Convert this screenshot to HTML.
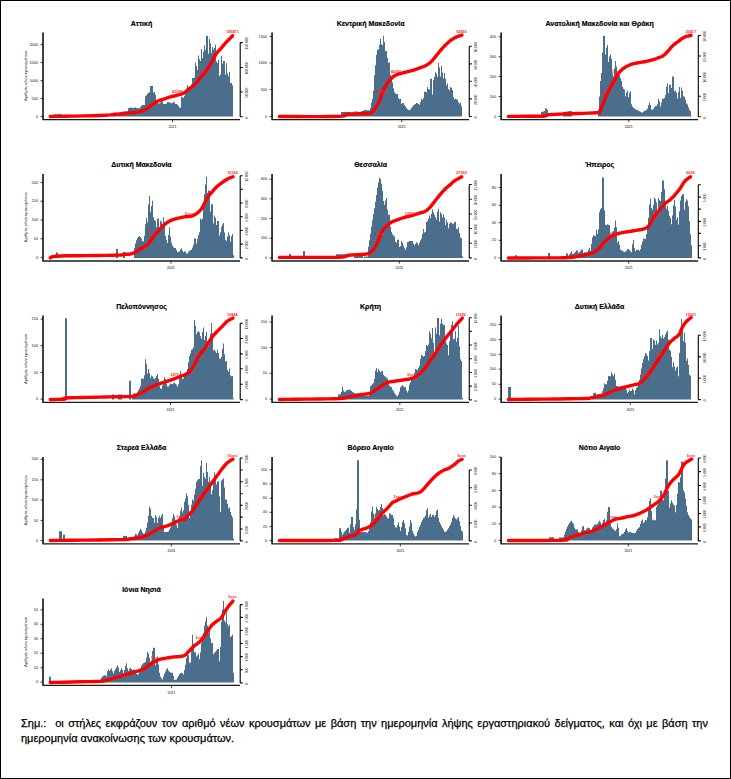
<!DOCTYPE html>
<html><head><meta charset="utf-8"><style>
html,body{margin:0;padding:0;background:#fff;}
body{width:731px;height:779px;position:relative;overflow:hidden;font-family:"Liberation Sans",sans-serif;}
svg text{font-family:"Liberation Sans",sans-serif;}
.frame{position:absolute;left:0;top:0;width:729px;height:777px;border:1px solid #000;box-sizing:content-box;}
.note{position:absolute;left:21px;width:687px;font-size:11px;line-height:15.6px;color:#000;white-space:nowrap;-webkit-text-stroke:0.25px #000;}
.l1{top:715.6px;text-align:justify;text-align-last:justify;white-space:normal;height:16px;overflow:hidden;}
.l2{top:731.3px;}
</style></head><body>
<div class="frame"></div>
<svg width="731" height="779" viewBox="0 0 731 779" style="position:absolute;left:0;top:0">
<path d="M54,116.5 V114.3 H55 V114.3 H56 V114.3 H57 V114.3 H58 V114.3 H59 V114.3 H60 V114.3 H61 V114.3 H62 V115.71 H63 V116.5 H64 V116.5 H65 V116.5 H66 V116.5 H67 V116.5 H68 V116.5 H69 V116.5 H70 V116.5 H71 V116.5 H72 V116.5 H73 V116.5 H74 V116.5 H75 V116.5 H76 V116.5 H77 V116.5 H78 V116.5 H79 V116.5 H80 V116.5 H81 V116.5 H82 V116.5 H83 V116.5 H84 V116.5 H85 V116.5 H86 V116.5 H87 V116.5 H88 V116.5 H89 V116.5 H90 V116.5 H91 V116.5 H92 V116.5 H93 V116.5 H94 V116.5 H95 V116.5 H96 V116.5 H97 V116.5 H98 V116.5 H99 V116.5 H100 V116.5 H101 V116.5 H102 V116.5 H103 V116.5 H104 V116.5 H105 V116.5 H106 V116.5 H107 V116.5 H108 V116.5 H109 V116.5 H110 V116.5 H111 V116.5 H112 V116.5 H113 V114.92 H114 V112.7 H115 V112.7 H116 V112.7 H117 V112.7 H118 V112.7 H119 V112.7 H120 V112.7 H121 V112.7 H122 V112.88 H123 V111.6 H124 V111.6 H125 V111.6 H126 V111.6 H127 V111.6 H128 V108.22 H129 V107.9 H130 V107.5 H131 V107.5 H132 V108.12 H133 V108.12 H134 V107.5 H135 V107.5 H136 V108 H137 V108.3 H138 V108.3 H139 V108.3 H140 V107.17 H141 V105.67 H142 V105 H143 V105 H144 V105 H145 V96.3 H146 V95.17 H147 V93.67 H148 V92.76 H149 V92.33 H150 V85.9 H151 V85.9 H152 V85.9 H153 V92.58 H154 V91.9 H155 V94.66 H156 V100.78 H157 V102.55 H158 V103.55 H159 V103.36 H160 V102.55 H161 V100.5 H162 V101.58 H163 V103.9 H164 V103.9 H165 V103.9 H166 V103.4 H167 V102 H168 V102 H169 V102.38 H170 V102.69 H171 V103.36 H172 V103.09 H173 V101.7 H174 V102.43 H175 V103.96 H176 V103.9 H177 V104.67 H178 V106.08 H179 V107.49 H180 V107.7 H181 V96.8 H182 V97.27 H183 V98 H184 V95.64 H185 V92 H186 V88.86 H187 V85.3 H188 V90.14 H189 V90 H190 V88 H191 V84.29 H192 V78.1 H193 V78.1 H194 V77.56 H195 V62.8 H196 V65.92 H197 V69.89 H198 V55.6 H199 V59.21 H200 V61.1 H201 V48.9 H202 V58.3 H203 V51.83 H204 V45.3 H205 V49.91 H206 V35.8 H207 V35.8 H208 V53.77 H209 V39 H210 V43.25 H211 V52.66 H212 V47.1 H213 V49.8 H214 V48.06 H215 V44.8 H216 V61.56 H217 V62.92 H218 V60.1 H219 V76.08 H220 V74.38 H221 V56 H222 V63.76 H223 V61 H224 V61 H225 V74.86 H226 V63.2 H227 V73.55 H228 V76.34 H229 V71.8 H230 V83.03 H231 V83 H232 V85.23 H233 V116.5 H234 V116.5 Z" fill="#4a6e8b"/>
<path d="M43,32.4 V119.6" fill="none" stroke="#000" stroke-width="1.5"/>
<path d="M42.4,119.6 H240" fill="none" stroke="#1a1a1a" stroke-width="1.3"/>
<path d="M40.5,116.5 H43 M40.5,98.5 H43 M40.5,80.6 H43 M40.5,62.6 H43 M40.5,44.7 H43" stroke="#111" stroke-width="0.8"/>
<text x="38.1" y="117.6" font-size="3.9" text-anchor="end" fill="#111">0</text>
<text x="38.1" y="99.6" font-size="3.9" text-anchor="end" fill="#111">500</text>
<text x="38.1" y="81.7" font-size="3.9" text-anchor="end" fill="#111">1000</text>
<text x="38.1" y="63.7" font-size="3.9" text-anchor="end" fill="#111">1500</text>
<text x="38.1" y="45.8" font-size="3.9" text-anchor="end" fill="#111">2000</text>
<text transform="translate(27.1,75.9) rotate(-90)" font-size="3.8" text-anchor="middle" fill="#222" textLength="50" lengthAdjust="spacingAndGlyphs">Αριθμός νέων κρουσμάτων</text>
<path d="M172.5,119.6 V122.2" stroke="#111" stroke-width="0.8"/>
<text x="172.5" y="128" font-size="3.5" text-anchor="middle" fill="#000">2021</text>
<path d="M240.2,42.6 V116.7 M240.2,116.7 H242.7 M240.2,92 H242.7 M240.2,67.5 H242.7 M240.2,42.6 H242.7" fill="none" stroke="#000" stroke-width="1.1"/>
<text transform="translate(248,117.5) rotate(-90)" font-size="3.4" text-anchor="middle" fill="#222">0</text>
<text transform="translate(248,92.8) rotate(-90)" font-size="3.4" text-anchor="middle" fill="#222">50 000</text>
<text transform="translate(248,68.3) rotate(-90)" font-size="3.4" text-anchor="middle" fill="#222">100 000</text>
<text transform="translate(248,43.4) rotate(-90)" font-size="3.4" text-anchor="middle" fill="#222">150 000</text>
<path d="M50.3,116.5 L56.1,116.39 L64.44,116.25 L74.16,116.08 L84.1,115.89 L93.1,115.69 L100,115.5 L104.66,115.31 L107.99,115.11 L110.37,114.91 L112.21,114.7 L113.92,114.5 L115.9,114.3 L118.02,114.11 L119.93,113.93 L121.71,113.74 L123.42,113.56 L125.13,113.38 L126.9,113.2 L128.77,113.03 L130.7,112.87 L132.63,112.72 L134.49,112.55 L136.23,112.35 L137.8,112.1 L139.17,111.8 L140.4,111.47 L141.51,111.1 L142.52,110.71 L143.48,110.31 L144.4,109.9 L145.26,109.49 L146.03,109.06 L146.74,108.62 L147.42,108.16 L148.1,107.69 L148.8,107.2 L149.52,106.68 L150.24,106.12 L150.95,105.55 L151.66,104.98 L152.38,104.42 L153.1,103.9 L153.8,103.41 L154.48,102.94 L155.16,102.48 L155.87,102.04 L156.64,101.61 L157.5,101.2 L158.47,100.8 L159.54,100.43 L160.67,100.07 L161.83,99.71 L162.98,99.36 L164.1,99 L165.19,98.63 L166.27,98.24 L167.35,97.86 L168.43,97.49 L169.51,97.13 L170.6,96.8 L171.69,96.51 L172.79,96.24 L173.89,96 L175,95.76 L176.1,95.49 L177.2,95.2 L178.32,94.89 L179.45,94.59 L180.59,94.26 L181.7,93.9 L182.78,93.49 L183.8,93 L184.75,92.41 L185.63,91.74 L186.47,91.01 L187.3,90.26 L188.14,89.51 L189,88.8 L189.89,88.15 L190.79,87.54 L191.69,86.93 L192.59,86.3 L193.5,85.6 L194.4,84.8 L195.3,83.88 L196.2,82.87 L197.1,81.79 L198,80.69 L198.9,79.58 L199.8,78.5 L200.7,77.47 L201.6,76.47 L202.51,75.46 L203.41,74.43 L204.31,73.35 L205.2,72.2 L206.09,70.97 L206.97,69.7 L207.85,68.37 L208.73,66.99 L209.61,65.57 L210.5,64.1 L211.39,62.52 L212.29,60.83 L213.19,59.09 L214.1,57.37 L215,55.75 L215.9,54.3 L216.8,53.05 L217.7,51.94 L218.6,50.93 L219.5,49.97 L220.4,49.01 L221.3,48 L222.19,46.95 L223.08,45.89 L223.97,44.83 L224.86,43.77 L225.77,42.73 L226.7,41.7 L227.72,40.63 L228.85,39.49 L229.99,38.36 L231.05,37.31 L231.95,36.44 L232.6,35.8" fill="none" stroke="#ff0000" stroke-width="3.4" stroke-linecap="round" stroke-linejoin="round"/>
<text x="232.5" y="32.9" font-size="3.8" font-weight="bold" text-anchor="middle" fill="#ff1a1a">185471</text>
<text x="177.4" y="92.9" font-size="3.8" font-weight="bold" text-anchor="middle" fill="#ff1a1a">43358</text>
<text x="200.8" y="72.7" font-size="3.8" font-weight="bold" text-anchor="middle" fill="#ff1a1a">92x</text>
<text x="141.5" y="25.8" font-size="7" font-weight="bold" text-anchor="middle" fill="#000" stroke="#000" stroke-width="0.18">Αττική</text>
<path d="M341,116.5 V112 H342 V112 H343 V112 H344 V112 H345 V112 H346 V112 H347 V112 H348 V112 H349 V112 H350 V112 H351 V112.62 H352 V112.62 H353 V112.12 H354 V111.5 H355 V111.5 H356 V111.62 H357 V111.72 H358 V111.83 H359 V111.92 H360 V111.7 H361 V111.3 H362 V110.9 H363 V110.5 H364 V110 H365 V110 H366 V110.14 H367 V110.25 H368 V110.37 H369 V110.48 H370 V107.98 H371 V102.61 H372 V98.67 H373 V90.86 H374 V75.2 H375 V65.26 H376 V54.95 H377 V49.7 H378 V49.42 H379 V45.1 H380 V38.6 H381 V44.23 H382 V45.14 H383 V35.7 H384 V41.95 H385 V51.32 H386 V51 H387 V57.8 H388 V63.1 H389 V62.2 H390 V74.63 H391 V79.19 H392 V82.3 H393 V88.17 H394 V92.25 H395 V93.53 H396 V94.1 H397 V94.1 H398 V98.12 H399 V99.14 H400 V98.8 H401 V104.12 H402 V103 H403 V103 H404 V105.08 H405 V106.5 H406 V107.94 H407 V109.19 H408 V109.84 H409 V110.3 H410 V109.45 H411 V108.11 H412 V106.86 H413 V105.3 H414 V104.72 H415 V103.96 H416 V103 H417 V103 H418 V103.92 H419 V104.66 H420 V102.24 H421 V98.8 H422 V99.92 H423 V98.05 H424 V91.8 H425 V91.8 H426 V92.3 H427 V87 H428 V88.91 H429 V89.42 H430 V78.8 H431 V78.8 H432 V94.41 H433 V80 H434 V76.73 H435 V72.3 H436 V73.98 H437 V76.93 H438 V62.8 H439 V67.38 H440 V76.51 H441 V65.8 H442 V72.44 H443 V78.53 H444 V72.9 H445 V78.63 H446 V85.4 H447 V83.5 H448 V88.88 H449 V90.45 H450 V87 H451 V87.79 H452 V90.04 H453 V97.01 H454 V99.23 H455 V98.8 H456 V99.29 H457 V99.86 H458 V102.35 H459 V103.69 H460 V102.4 H461 V106.16 H462 V116.5 H463 V116.5 Z" fill="#4a6e8b"/>
<path d="M272.05,32.4 V119.6" fill="none" stroke="#000" stroke-width="1.5"/>
<path d="M271.45,119.6 H469.05" fill="none" stroke="#1a1a1a" stroke-width="1.3"/>
<path d="M269.55,116.5 H272.05 M269.55,89.6 H272.05 M269.55,63 H272.05 M269.55,36.5 H272.05" stroke="#111" stroke-width="0.8"/>
<text x="267.15" y="117.6" font-size="3.9" text-anchor="end" fill="#111">0</text>
<text x="267.15" y="90.7" font-size="3.9" text-anchor="end" fill="#111">500</text>
<text x="267.15" y="64.1" font-size="3.9" text-anchor="end" fill="#111">1000</text>
<text x="267.15" y="37.6" font-size="3.9" text-anchor="end" fill="#111">1500</text>
<path d="M401.8,119.6 V122.2" stroke="#111" stroke-width="0.8"/>
<text x="401.8" y="128" font-size="3.5" text-anchor="middle" fill="#000">2021</text>
<path d="M469.25,46.3 V116.5 M469.25,116.5 H471.75 M469.25,98.9 H471.75 M469.25,81.3 H471.75 M469.25,63.9 H471.75 M469.25,46.3 H471.75" fill="none" stroke="#000" stroke-width="1.1"/>
<text transform="translate(477.05,117.3) rotate(-90)" font-size="3.4" text-anchor="middle" fill="#222">0</text>
<text transform="translate(477.05,99.7) rotate(-90)" font-size="3.4" text-anchor="middle" fill="#222">20 000</text>
<text transform="translate(477.05,82.1) rotate(-90)" font-size="3.4" text-anchor="middle" fill="#222">40 000</text>
<text transform="translate(477.05,64.7) rotate(-90)" font-size="3.4" text-anchor="middle" fill="#222">60 000</text>
<text transform="translate(477.05,47.1) rotate(-90)" font-size="3.4" text-anchor="middle" fill="#222">80 000</text>
<path d="M279.35,116.5 L286.31,116.51 L296.39,116.54 L308.11,116.58 L319.96,116.58 L330.42,116.53 L338,116.4 L342.33,116.16 L344.53,115.82 L345.35,115.43 L345.54,115.03 L345.84,114.67 L347,114.4 L348.99,114.22 L351.22,114.09 L353.56,114 L355.89,113.93 L358.08,113.87 L360,113.8 L361.68,113.73 L363.21,113.67 L364.61,113.61 L365.87,113.56 L367,113.49 L368,113.4 L368.82,113.32 L369.46,113.25 L369.96,113.17 L370.39,113.05 L370.82,112.87 L371.3,112.6 L371.81,112.28 L372.29,111.93 L372.76,111.52 L373.25,111 L373.79,110.34 L374.4,109.5 L375.12,108.43 L375.92,107.16 L376.77,105.74 L377.63,104.24 L378.46,102.71 L379.2,101.2 L379.86,99.67 L380.46,98.06 L381.02,96.43 L381.57,94.8 L382.13,93.25 L382.7,91.8 L383.28,90.47 L383.85,89.22 L384.43,88.03 L385.01,86.89 L385.64,85.79 L386.3,84.7 L387.02,83.62 L387.79,82.56 L388.58,81.53 L389.39,80.55 L390.2,79.64 L391,78.8 L391.76,78.05 L392.48,77.38 L393.2,76.78 L393.96,76.22 L394.78,75.7 L395.7,75.2 L396.72,74.74 L397.8,74.34 L398.96,73.98 L400.17,73.63 L401.46,73.27 L402.8,72.9 L404.26,72.51 L405.85,72.11 L407.5,71.71 L409.15,71.3 L410.74,70.9 L412.2,70.5 L413.53,70.1 L414.78,69.7 L415.96,69.29 L417.1,68.89 L418.21,68.49 L419.3,68.1 L420.37,67.73 L421.41,67.37 L422.41,67.02 L423.39,66.66 L424.35,66.26 L425.3,65.8 L426.23,65.29 L427.14,64.76 L428.03,64.19 L428.9,63.57 L429.76,62.91 L430.6,62.2 L431.42,61.42 L432.21,60.58 L432.99,59.69 L433.76,58.77 L434.52,57.84 L435.3,56.9 L436.08,55.94 L436.86,54.96 L437.64,53.95 L438.43,52.94 L439.21,51.96 L440,51 L440.78,50.08 L441.55,49.19 L442.32,48.31 L443.11,47.44 L443.94,46.58 L444.8,45.7 L445.72,44.8 L446.69,43.87 L447.68,42.94 L448.69,42.03 L449.7,41.18 L450.7,40.4 L451.69,39.69 L452.69,39.04 L453.69,38.43 L454.68,37.87 L455.65,37.36 L456.6,36.9 L457.58,36.48 L458.61,36.11 L459.62,35.78 L460.55,35.5 L461.33,35.28 L461.9,35.1" fill="none" stroke="#ff0000" stroke-width="3.4" stroke-linecap="round" stroke-linejoin="round"/>
<text x="461.5" y="32.9" font-size="3.8" font-weight="bold" text-anchor="middle" fill="#ff1a1a">92856</text>
<text x="396" y="72.9" font-size="3.8" font-weight="bold" text-anchor="middle" fill="#ff1a1a">44305</text>
<text x="381.5" y="92.9" font-size="3.8" font-weight="bold" text-anchor="middle" fill="#ff1a1a">23064</text>
<text x="370.55" y="25.8" font-size="7" font-weight="bold" text-anchor="middle" fill="#000" stroke="#000" stroke-width="0.18">Κεντρική Μακεδονία</text>
<path d="M541,116.5 V112 H542 V111.75 H543 V111.42 H544 V111 H545 V108.5 H546 V108.5 H547 V109.75 H548 V116.5 H549 V116.5 H550 V116.5 H551 V116.5 H552 V116.5 H553 V116.5 H554 V116.5 H555 V116.5 H556 V116.5 H557 V116.5 H558 V116.5 H559 V116.5 H560 V116.5 H561 V116.5 H562 V116.5 H563 V112 H564 V111.89 H565 V111.75 H566 V111.61 H567 V111.46 H568 V111.32 H569 V111.18 H570 V111 H571 V111 H572 V116.5 H573 V116.5 H574 V116.5 H575 V116.5 H576 V116.5 H577 V116.5 H578 V116.5 H579 V116.5 H580 V116.5 H581 V116.5 H582 V116.5 H583 V116.5 H584 V116.5 H585 V116.5 H586 V116.5 H587 V116.5 H588 V116.5 H589 V116.5 H590 V116.5 H591 V116.5 H592 V116.5 H593 V116.5 H594 V116.5 H595 V116.5 H596 V116.5 H597 V116.5 H598 V110.24 H599 V96.51 H600 V81.1 H601 V72.9 H602 V52.51 H603 V35.7 H604 V35.7 H605 V54.4 H606 V47.51 H607 V45.1 H608 V62.1 H609 V56.54 H610 V54.6 H611 V58.7 H612 V73.43 H613 V76.42 H614 V68.56 H615 V61.1 H616 V66.44 H617 V76.14 H618 V75.89 H619 V75.2 H620 V78 H621 V80.95 H622 V86.72 H623 V88.73 H624 V89.4 H625 V96.32 H626 V92.38 H627 V90.6 H628 V97.24 H629 V92.76 H630 V91.2 H631 V104.14 H632 V106.6 H633 V107.7 H634 V108.5 H635 V109.3 H636 V109.78 H637 V110.16 H638 V110.54 H639 V111.17 H640 V111.83 H641 V112.5 H642 V112.49 H643 V111.8 H644 V111.11 H645 V110.46 H646 V109.88 H647 V108.42 H648 V105.33 H649 V102.4 H650 V104.91 H651 V109.46 H652 V109.84 H653 V108.8 H654 V107.23 H655 V105.9 H656 V105.9 H657 V104.24 H658 V98.8 H659 V101.18 H660 V106.52 H661 V102.56 H662 V98.8 H663 V98.8 H664 V98.07 H665 V94.91 H666 V87.04 H667 V83.5 H668 V93.25 H669 V84.7 H670 V84.7 H671 V88.01 H672 V76.4 H673 V76.4 H674 V91.21 H675 V90.6 H676 V92.66 H677 V98.38 H678 V91.88 H679 V87 H680 V97.8 H681 V87.6 H682 V90.94 H683 V96.5 H684 V96.5 H685 V99.58 H686 V103.6 H687 V104.5 H688 V107.27 H689 V109.92 H690 V111.13 H691 V115.91 H692 V116.5 Z" fill="#4a6e8b"/>
<path d="M501.1,32.4 V119.6" fill="none" stroke="#000" stroke-width="1.5"/>
<path d="M500.5,119.6 H698.1" fill="none" stroke="#1a1a1a" stroke-width="1.3"/>
<path d="M498.6,116.5 H501.1 M498.6,96.6 H501.1 M498.6,76.5 H501.1 M498.6,56.7 H501.1 M498.6,36.7 H501.1" stroke="#111" stroke-width="0.8"/>
<text x="496.2" y="117.6" font-size="3.9" text-anchor="end" fill="#111">0</text>
<text x="496.2" y="97.7" font-size="3.9" text-anchor="end" fill="#111">100</text>
<text x="496.2" y="77.6" font-size="3.9" text-anchor="end" fill="#111">200</text>
<text x="496.2" y="57.8" font-size="3.9" text-anchor="end" fill="#111">300</text>
<text x="496.2" y="37.8" font-size="3.9" text-anchor="end" fill="#111">400</text>
<path d="M628.8,119.6 V122.2" stroke="#111" stroke-width="0.8"/>
<text x="628.8" y="128" font-size="3.5" text-anchor="middle" fill="#000">2021</text>
<path d="M698.3,35.5 V116.7 M698.3,116.7 H700.8 M698.3,96.2 H700.8 M698.3,76.5 H700.8 M698.3,56 H700.8 M698.3,35.5 H700.8" fill="none" stroke="#000" stroke-width="1.1"/>
<text transform="translate(706.1,117.5) rotate(-90)" font-size="3.4" text-anchor="middle" fill="#222">0</text>
<text transform="translate(706.1,97) rotate(-90)" font-size="3.4" text-anchor="middle" fill="#222">5 000</text>
<text transform="translate(706.1,77.3) rotate(-90)" font-size="3.4" text-anchor="middle" fill="#222">10 000</text>
<text transform="translate(706.1,56.8) rotate(-90)" font-size="3.4" text-anchor="middle" fill="#222">15 000</text>
<text transform="translate(706.1,36.3) rotate(-90)" font-size="3.4" text-anchor="middle" fill="#222">20 000</text>
<path d="M508.4,116.4 L512.15,116.38 L517.58,116.35 L523.89,116.31 L530.27,116.27 L535.91,116.24 L540,116.2 L542.38,116.18 L543.65,116.18 L544.18,116.17 L544.34,116.16 L544.49,116.1 L545,116 L545.65,115.83 L546.1,115.6 L546.54,115.33 L547.16,115.06 L548.15,114.81 L549.7,114.6 L551.81,114.45 L554.32,114.33 L557.21,114.23 L560.42,114.14 L563.93,114.03 L567.7,113.9 L572.15,113.74 L577.39,113.56 L582.93,113.37 L588.26,113.17 L592.89,112.98 L596.3,112.8 L598.29,112.71 L599.2,112.73 L599.41,112.74 L599.27,112.66 L599.15,112.38 L599.4,111.8 L599.97,110.85 L600.57,109.6 L601.18,108.16 L601.79,106.61 L602.4,105.06 L603,103.6 L603.58,102.22 L604.15,100.84 L604.71,99.46 L605.29,98.07 L605.88,96.68 L606.5,95.3 L607.16,93.9 L607.85,92.49 L608.56,91.07 L609.28,89.67 L610,88.31 L610.7,87 L611.4,85.75 L612.1,84.55 L612.79,83.39 L613.48,82.25 L614.15,81.12 L614.8,80 L615.4,78.87 L615.96,77.73 L616.51,76.61 L617.06,75.52 L617.65,74.48 L618.3,73.5 L619.01,72.59 L619.76,71.73 L620.55,70.91 L621.37,70.14 L622.22,69.41 L623.1,68.7 L624.02,68.02 L624.99,67.37 L625.98,66.76 L626.99,66.19 L628,65.67 L629,65.2 L629.97,64.79 L630.93,64.45 L631.88,64.16 L632.85,63.89 L633.85,63.65 L634.9,63.4 L635.99,63.17 L637.11,62.97 L638.26,62.79 L639.44,62.61 L640.66,62.42 L641.9,62.2 L643.17,61.96 L644.48,61.72 L645.81,61.46 L647.18,61.18 L648.57,60.86 L650,60.5 L651.52,60.07 L653.15,59.57 L654.81,59.04 L656.43,58.5 L657.91,57.97 L659.2,57.5 L660.24,57.11 L661.1,56.77 L661.83,56.46 L662.5,56.13 L663.17,55.72 L663.9,55.2 L664.68,54.55 L665.47,53.8 L666.25,52.99 L667.03,52.13 L667.82,51.26 L668.6,50.4 L669.38,49.52 L670.16,48.6 L670.94,47.67 L671.73,46.75 L672.51,45.88 L673.3,45.1 L674.08,44.42 L674.85,43.83 L675.62,43.28 L676.41,42.75 L677.24,42.2 L678.1,41.6 L679.01,40.92 L679.94,40.17 L680.91,39.41 L681.91,38.67 L682.94,37.99 L684,37.4 L685.18,36.9 L686.51,36.47 L687.87,36.09 L689.14,35.77 L690.23,35.5 L691,35.3" fill="none" stroke="#ff0000" stroke-width="3.4" stroke-linecap="round" stroke-linejoin="round"/>
<text x="691" y="32.9" font-size="3.8" font-weight="bold" text-anchor="middle" fill="#ff1a1a">20417</text>
<text x="616" y="72.8" font-size="3.8" font-weight="bold" text-anchor="middle" fill="#ff1a1a">10xx</text>
<text x="605.2" y="93.2" font-size="3.8" font-weight="bold" text-anchor="middle" fill="#ff1a1a">5xx</text>
<text x="599.6" y="25.8" font-size="7" font-weight="bold" text-anchor="middle" fill="#000" stroke="#000" stroke-width="0.18">Ανατολική Μακεδονία και Θράκη</text>
<path d="M54,258 V257.38 H55 V254.7 H56 V252.3 H57 V252.82 H58 V254.88 H59 V257.38 H60 V258 H61 V258 H62 V258 H63 V258 H64 V258 H65 V258 H66 V258 H67 V258 H68 V258 H69 V258 H70 V258 H71 V258 H72 V258 H73 V258 H74 V258 H75 V258 H76 V258 H77 V258 H78 V258 H79 V258 H80 V258 H81 V258 H82 V258 H83 V258 H84 V258 H85 V258 H86 V258 H87 V258 H88 V258 H89 V258 H90 V258 H91 V258 H92 V258 H93 V258 H94 V258 H95 V258 H96 V258 H97 V258 H98 V258 H99 V258 H100 V258 H101 V258 H102 V258 H103 V258 H104 V258 H105 V258 H106 V258 H107 V258 H108 V258 H109 V258 H110 V258 H111 V258 H112 V258 H113 V258 H114 V258 H115 V258 H116 V249 H117 V249 H118 V258 H119 V258 H120 V258 H121 V258 H122 V258 H123 V252 H124 V252 H125 V258 H126 V258 H127 V258 H128 V258 H129 V258 H130 V258 H131 V258 H132 V258 H133 V258 H134 V247.75 H135 V243.54 H136 V240.29 H137 V237.99 H138 V236.84 H139 V236.1 H140 V237.23 H141 V238.5 H142 V241.58 H143 V241.12 H144 V235.67 H145 V224.14 H146 V217.8 H147 V222.21 H148 V204.49 H149 V196 H150 V211.68 H151 V206.01 H152 V200.7 H153 V217.24 H154 V220.24 H155 V220.8 H156 V227.21 H157 V218.4 H158 V218.4 H159 V227.23 H160 V220.8 H161 V221.83 H162 V224.02 H163 V217.2 H164 V222.29 H165 V236.1 H166 V239.63 H167 V243.03 H168 V235.04 H169 V227.3 H170 V236.46 H171 V242.45 H172 V245.45 H173 V247.16 H174 V247.9 H175 V247.9 H176 V249.97 H177 V252.35 H178 V251.89 H179 V251.25 H180 V249.58 H181 V248.5 H182 V250.55 H183 V252.22 H184 V251.5 H185 V251.5 H186 V253.61 H187 V253.41 H188 V251.89 H189 V250.72 H190 V250.22 H191 V249.7 H192 V247.58 H193 V244.67 H194 V238.5 H195 V238.5 H196 V243.56 H197 V238.98 H198 V235.17 H199 V232.3 H200 V218.5 H201 V219.67 H202 V218.49 H203 V204.46 H204 V194.3 H205 V184.38 H206 V176.8 H207 V192.69 H208 V190.5 H209 V190.5 H210 V211.83 H211 V204.2 H212 V204.2 H213 V223.53 H214 V215.4 H215 V217.87 H216 V224.91 H217 V221 H218 V221 H219 V235.61 H220 V232.16 H221 V227.03 H222 V224.53 H223 V222.9 H224 V232.42 H225 V239.95 H226 V240.68 H227 V236.6 H228 V232.2 H229 V235.19 H230 V241.84 H231 V236.16 H232 V234.1 H233 V255.24 H234 V258 Z" fill="#4a6e8b"/>
<path d="M43,173.9 V261.02" fill="none" stroke="#000" stroke-width="1.5"/>
<path d="M42.4,261.02 H240" fill="none" stroke="#1a1a1a" stroke-width="1.3"/>
<path d="M40.5,257.4 H43 M40.5,238.8 H43 M40.5,220 H43 M40.5,201.2 H43 M40.5,182.6 H43" stroke="#111" stroke-width="0.8"/>
<text x="38.1" y="258.5" font-size="3.9" text-anchor="end" fill="#111">0</text>
<text x="38.1" y="239.9" font-size="3.9" text-anchor="end" fill="#111">50</text>
<text x="38.1" y="221.1" font-size="3.9" text-anchor="end" fill="#111">100</text>
<text x="38.1" y="202.3" font-size="3.9" text-anchor="end" fill="#111">150</text>
<text x="38.1" y="183.7" font-size="3.9" text-anchor="end" fill="#111">200</text>
<text transform="translate(27.1,217.4) rotate(-90)" font-size="3.8" text-anchor="middle" fill="#222" textLength="50" lengthAdjust="spacingAndGlyphs">Αριθμός νέων κρουσμάτων</text>
<path d="M170.9,261.02 V263.62" stroke="#111" stroke-width="0.8"/>
<text x="170.9" y="269.42" font-size="3.5" text-anchor="middle" fill="#000">2021</text>
<path d="M240.2,175.8 V257.9 M240.2,257.9 H242.7 M240.2,244.1 H242.7 M240.2,230.5 H242.7 M240.2,216.8 H242.7 M240.2,203 H242.7 M240.2,189.4 H242.7 M240.2,175.8 H242.7" fill="none" stroke="#000" stroke-width="1.1"/>
<text transform="translate(248,258.7) rotate(-90)" font-size="3.4" text-anchor="middle" fill="#222">0</text>
<text transform="translate(248,244.9) rotate(-90)" font-size="3.4" text-anchor="middle" fill="#222">2 000</text>
<text transform="translate(248,231.3) rotate(-90)" font-size="3.4" text-anchor="middle" fill="#222">4 000</text>
<text transform="translate(248,217.6) rotate(-90)" font-size="3.4" text-anchor="middle" fill="#222">6 000</text>
<text transform="translate(248,203.8) rotate(-90)" font-size="3.4" text-anchor="middle" fill="#222">8 000</text>
<text transform="translate(248,176.6) rotate(-90)" font-size="3.4" text-anchor="middle" fill="#222">12 000</text>
<path d="M50.3,257.8 L50.85,257.59 L51.19,257.29 L51.79,256.94 L53.15,256.59 L55.72,256.26 L60,256 L66.89,255.82 L76.21,255.7 L86.75,255.6 L97.31,255.51 L106.69,255.42 L113.7,255.3 L118.1,255.14 L120.82,254.96 L122.36,254.78 L123.23,254.59 L123.94,254.43 L125,254.3 L126.25,254.23 L127.27,254.22 L128.12,254.23 L128.89,254.21 L129.66,254.15 L130.5,254 L131.4,253.76 L132.3,253.46 L133.2,253.11 L134.1,252.71 L135,252.27 L135.9,251.8 L136.81,251.28 L137.73,250.69 L138.64,250.06 L139.56,249.42 L140.48,248.79 L141.4,248.2 L142.34,247.66 L143.3,247.15 L144.26,246.65 L145.19,246.14 L146.08,245.6 L146.9,245 L147.64,244.34 L148.31,243.64 L148.94,242.91 L149.53,242.15 L150.12,241.38 L150.7,240.6 L151.27,239.8 L151.82,238.97 L152.35,238.13 L152.88,237.29 L153.43,236.48 L154,235.7 L154.6,234.98 L155.21,234.3 L155.83,233.64 L156.47,232.98 L157.13,232.31 L157.8,231.6 L158.52,230.83 L159.28,230 L160.06,229.16 L160.83,228.34 L161.55,227.57 L162.2,226.9 L162.73,226.34 L163.17,225.88 L163.56,225.47 L163.96,225.08 L164.42,224.67 L165,224.2 L165.69,223.66 L166.46,223.08 L167.28,222.48 L168.17,221.89 L169.11,221.32 L170.1,220.8 L171.17,220.33 L172.32,219.89 L173.52,219.48 L174.76,219.1 L175.99,218.74 L177.2,218.4 L178.39,218.09 L179.57,217.8 L180.76,217.54 L181.95,217.31 L183.13,217.09 L184.3,216.9 L185.47,216.77 L186.64,216.7 L187.8,216.66 L188.95,216.6 L190.09,216.46 L191.2,216.2 L192.3,215.83 L193.4,215.38 L194.47,214.86 L195.53,214.27 L196.54,213.61 L197.5,212.9 L198.4,212.14 L199.26,211.32 L200.07,210.44 L200.86,209.48 L201.63,208.44 L202.4,207.3 L203.16,205.99 L203.9,204.51 L204.63,202.95 L205.35,201.39 L206.07,199.91 L206.8,198.6 L207.53,197.49 L208.25,196.5 L208.97,195.61 L209.7,194.75 L210.44,193.9 L211.2,193 L211.97,192.06 L212.74,191.11 L213.53,190.16 L214.34,189.22 L215.2,188.3 L216.1,187.4 L217.08,186.52 L218.12,185.64 L219.21,184.78 L220.3,183.95 L221.37,183.15 L222.4,182.4 L223.38,181.69 L224.34,181 L225.28,180.36 L226.2,179.75 L227.11,179.2 L228,178.7 L228.93,178.26 L229.9,177.86 L230.85,177.52 L231.73,177.23 L232.46,176.99 L233,176.8" fill="none" stroke="#ff0000" stroke-width="3.4" stroke-linecap="round" stroke-linejoin="round"/>
<text x="232.6" y="173.9" font-size="3.8" font-weight="bold" text-anchor="middle" fill="#ff1a1a">11036</text>
<text x="189.3" y="215" font-size="3.8" font-weight="bold" text-anchor="middle" fill="#ff1a1a">5xxx</text>
<text x="151.5" y="235.2" font-size="3.8" font-weight="bold" text-anchor="middle" fill="#ff1a1a">2xxx</text>
<text x="141.5" y="167.3" font-size="7" font-weight="bold" text-anchor="middle" fill="#000" stroke="#000" stroke-width="0.18">Δυτική Μακεδονία</text>
<path d="M289,258 V254 H290 V254 H291 V258 H292 V258 H293 V258 H294 V258 H295 V258 H296 V258 H297 V258 H298 V258 H299 V258 H300 V258 H301 V258 H302 V258 H303 V251 H304 V251 H305 V258 H306 V258 H307 V258 H308 V258 H309 V258 H310 V258 H311 V258 H312 V258 H313 V258 H314 V258 H315 V258 H316 V258 H317 V258 H318 V258 H319 V258 H320 V258 H321 V258 H322 V258 H323 V258 H324 V258 H325 V258 H326 V258 H327 V258 H328 V258 H329 V258 H330 V258 H331 V258 H332 V258 H333 V258 H334 V258 H335 V258 H336 V254.3 H337 V254.3 H338 V254.3 H339 V254.3 H340 V254.3 H341 V254.3 H342 V254.3 H343 V254.3 H344 V254.3 H345 V254.3 H346 V254.3 H347 V258 H348 V258 H349 V258 H350 V258 H351 V258 H352 V258 H353 V258 H354 V254 H355 V254 H356 V254 H357 V254 H358 V254 H359 V254 H360 V254 H361 V254 H362 V254 H363 V258 H364 V256.5 H365 V256.5 H366 V256.5 H367 V256.5 H368 V246.87 H369 V240.29 H370 V233.67 H371 V226.83 H372 V220.21 H373 V214.26 H374 V208.27 H375 V201.75 H376 V194.9 H377 V187.59 H378 V182.23 H379 V177.5 H380 V179.1 H381 V183.68 H382 V190.76 H383 V200.88 H384 V204.82 H385 V200.43 H386 V198 H387 V209.76 H388 V214.8 H389 V214.8 H390 V226.67 H391 V231.73 H392 V234.31 H393 V235.55 H394 V236.55 H395 V241.41 H396 V242.68 H397 V239.7 H398 V239.7 H399 V247.07 H400 V246.22 H401 V241 H402 V242.79 H403 V246.06 H404 V248.29 H405 V249.97 H406 V247.14 H407 V242.2 H408 V241.7 H409 V241 H410 V241 H411 V241 H412 V241 H413 V243.74 H414 V245.16 H415 V243.64 H416 V242.2 H417 V243.36 H418 V245.34 H419 V242.71 H420 V240.42 H421 V238.5 H422 V234.06 H423 V229.1 H424 V232.55 H425 V231.65 H426 V222.1 H427 V221.28 H428 V218.73 H429 V215.4 H430 V218.32 H431 V214.11 H432 V209.2 H433 V212.28 H434 V214.96 H435 V217.3 H436 V219.48 H437 V211.42 H438 V208.6 H439 V221.48 H440 V212.3 H441 V213.75 H442 V217.5 H443 V214.2 H444 V217.48 H445 V225.05 H446 V219.8 H447 V222.61 H448 V228.26 H449 V223.84 H450 V222.3 H451 V223.11 H452 V223.7 H453 V223.71 H454 V222.32 H455 V221.7 H456 V229.05 H457 V229.17 H458 V227.3 H459 V232.91 H460 V237.48 H461 V238.3 H462 V256.23 H463 V258 Z" fill="#4a6e8b"/>
<path d="M272.05,173.9 V261.02" fill="none" stroke="#000" stroke-width="1.5"/>
<path d="M271.45,261.02 H469.05" fill="none" stroke="#1a1a1a" stroke-width="1.3"/>
<path d="M269.55,257.9 H272.05 M269.55,238.2 H272.05 M269.55,218.5 H272.05 M269.55,198.8 H272.05 M269.55,179.2 H272.05" stroke="#111" stroke-width="0.8"/>
<text x="267.15" y="259" font-size="3.9" text-anchor="end" fill="#111">0</text>
<text x="267.15" y="239.3" font-size="3.9" text-anchor="end" fill="#111">100</text>
<text x="267.15" y="219.6" font-size="3.9" text-anchor="end" fill="#111">200</text>
<text x="267.15" y="199.9" font-size="3.9" text-anchor="end" fill="#111">300</text>
<text x="267.15" y="180.3" font-size="3.9" text-anchor="end" fill="#111">400</text>
<path d="M399.4,261.02 V263.62" stroke="#111" stroke-width="0.8"/>
<text x="399.4" y="269.42" font-size="3.5" text-anchor="middle" fill="#000">2021</text>
<path d="M469.25,184.5 V257.9 M469.25,257.9 H471.75 M469.25,243.3 H471.75 M469.25,228.5 H471.75 M469.25,214 H471.75 M469.25,199.3 H471.75 M469.25,184.5 H471.75" fill="none" stroke="#000" stroke-width="1.1"/>
<text transform="translate(477.05,258.7) rotate(-90)" font-size="3.4" text-anchor="middle" fill="#222">0</text>
<text transform="translate(477.05,244.1) rotate(-90)" font-size="3.4" text-anchor="middle" fill="#222">5 000</text>
<text transform="translate(477.05,229.3) rotate(-90)" font-size="3.4" text-anchor="middle" fill="#222">10 000</text>
<text transform="translate(477.05,214.8) rotate(-90)" font-size="3.4" text-anchor="middle" fill="#222">15 000</text>
<text transform="translate(477.05,200.1) rotate(-90)" font-size="3.4" text-anchor="middle" fill="#222">20 000</text>
<text transform="translate(477.05,185.3) rotate(-90)" font-size="3.4" text-anchor="middle" fill="#222">25 000</text>
<path d="M279.35,257.4 L286.24,257.4 L296.22,257.41 L307.82,257.42 L319.57,257.41 L330.02,257.34 L337.7,257.2 L342.29,256.96 L344.89,256.62 L346.18,256.24 L346.85,255.84 L347.56,255.48 L349,255.2 L351.16,254.99 L353.5,254.83 L355.89,254.71 L358.2,254.6 L360.28,254.5 L362,254.4 L363.31,254.31 L364.31,254.25 L365.09,254.19 L365.74,254.13 L366.35,254.04 L367,253.9 L367.67,253.74 L368.27,253.57 L368.82,253.37 L369.37,253.12 L369.92,252.81 L370.5,252.4 L371.12,251.92 L371.74,251.38 L372.38,250.77 L373.02,250.08 L373.66,249.29 L374.3,248.4 L374.93,247.39 L375.55,246.28 L376.17,245.08 L376.8,243.79 L377.44,242.42 L378.1,241 L378.79,239.43 L379.49,237.67 L380.21,235.85 L380.94,234.06 L381.67,232.41 L382.4,231 L383.13,229.86 L383.86,228.91 L384.59,228.11 L385.33,227.39 L386.07,226.7 L386.8,226 L387.51,225.29 L388.2,224.63 L388.89,223.99 L389.6,223.4 L390.36,222.83 L391.2,222.3 L392.11,221.81 L393.09,221.38 L394.11,220.98 L395.17,220.59 L396.27,220.2 L397.4,219.8 L398.58,219.38 L399.81,218.94 L401.07,218.51 L402.36,218.09 L403.64,217.68 L404.9,217.3 L406.14,216.95 L407.37,216.64 L408.6,216.34 L409.83,216.05 L411.06,215.74 L412.3,215.4 L413.57,215.02 L414.88,214.61 L416.19,214.18 L417.47,213.76 L418.68,213.36 L419.8,213 L420.8,212.72 L421.71,212.5 L422.56,212.31 L423.37,212.09 L424.17,211.8 L425,211.4 L425.85,210.89 L426.69,210.3 L427.52,209.64 L428.35,208.91 L429.17,208.13 L430,207.3 L430.82,206.39 L431.64,205.39 L432.45,204.33 L433.26,203.24 L434.08,202.16 L434.9,201.1 L435.73,200.06 L436.56,199.01 L437.39,197.96 L438.23,196.92 L439.07,195.9 L439.9,194.9 L440.73,193.92 L441.57,192.94 L442.4,191.99 L443.23,191.06 L444.07,190.16 L444.9,189.3 L445.73,188.5 L446.57,187.74 L447.4,187.02 L448.23,186.31 L449.07,185.61 L449.9,184.9 L450.71,184.17 L451.5,183.44 L452.29,182.71 L453.1,181.99 L453.96,181.29 L454.9,180.6 L456.01,179.89 L457.29,179.16 L458.61,178.43 L459.87,177.77 L460.94,177.21 L461.7,176.8" fill="none" stroke="#ff0000" stroke-width="3.4" stroke-linecap="round" stroke-linejoin="round"/>
<text x="461.5" y="173.9" font-size="3.8" font-weight="bold" text-anchor="middle" fill="#ff1a1a">27950</text>
<text x="409.8" y="215" font-size="3.8" font-weight="bold" text-anchor="middle" fill="#ff1a1a">13750</text>
<text x="379.6" y="234.9" font-size="3.8" font-weight="bold" text-anchor="middle" fill="#ff1a1a">65xx</text>
<text x="370.55" y="167.3" font-size="7" font-weight="bold" text-anchor="middle" fill="#000" stroke="#000" stroke-width="0.18">Θεσσαλία</text>
<path d="M515,258 V255.3 H516 V255.3 H517 V258 H518 V258 H519 V258 H520 V258 H521 V258 H522 V258 H523 V258 H524 V258 H525 V258 H526 V258 H527 V258 H528 V258 H529 V258 H530 V258 H531 V258 H532 V258 H533 V258 H534 V258 H535 V258 H536 V258 H537 V258 H538 V258 H539 V258 H540 V258 H541 V258 H542 V258 H543 V258 H544 V258 H545 V258 H546 V258 H547 V258 H548 V253.1 H549 V253.1 H550 V258 H551 V258 H552 V258 H553 V258 H554 V258 H555 V258 H556 V258 H557 V258 H558 V258 H559 V258 H560 V258 H561 V258 H562 V258 H563 V258 H564 V258 H565 V258 H566 V253.4 H567 V253.4 H568 V255.44 H569 V254.5 H570 V253 H571 V251.5 H572 V254.12 H573 V254 H574 V253 H575 V252.06 H576 V250.5 H577 V250.5 H578 V253.25 H579 V252 H580 V251.06 H581 V249.5 H582 V249.5 H583 V253.01 H584 V252.2 H585 V252.2 H586 V252.2 H587 V252.2 H588 V250 H589 V247.8 H590 V250.92 H591 V243.99 H592 V237.13 H593 V235.4 H594 V235.4 H595 V236.3 H596 V229.8 H597 V233.68 H598 V229.34 H599 V212.16 H600 V209.29 H601 V208 H602 V177.5 H603 V177.5 H604 V210.14 H605 V224.7 H606 V225.26 H607 V224.2 H608 V224.74 H609 V225.37 H610 V234.74 H611 V233.91 H612 V231.87 H613 V230.92 H614 V227.59 H615 V220.4 H616 V227.14 H617 V242.42 H618 V241 H619 V244.77 H620 V249.7 H621 V250.3 H622 V250.82 H623 V251.4 H624 V251.99 H625 V251.49 H626 V250.83 H627 V249.1 H628 V249.1 H629 V250.35 H630 V251.35 H631 V252.35 H632 V244.2 H633 V239.7 H634 V248 H635 V251.25 H636 V249.7 H637 V249.7 H638 V249.7 H639 V250.95 H640 V249.24 H641 V244.7 H642 V241.77 H643 V238.5 H644 V238.85 H645 V239 H646 V234.31 H647 V227.18 H648 V217.84 H649 V204.57 H650 V198.6 H651 V207.65 H652 V209.8 H653 V204.76 H654 V197.4 H655 V199.23 H656 V202.4 H657 V212.8 H658 V198 H659 V200.18 H660 V200.97 H661 V191.77 H662 V180.6 H663 V180.6 H664 V189.28 H665 V201.52 H666 V208.79 H667 V206.1 H668 V211.03 H669 V215.7 H670 V217.9 H671 V224.26 H672 V215.42 H673 V205.57 H674 V199.9 H675 V206.43 H676 V219.8 H677 V217.3 H678 V224.38 H679 V211.24 H680 V200.55 H681 V196.03 H682 V194.3 H683 V194.3 H684 V209.86 H685 V201.96 H686 V199.2 H687 V200.41 H688 V206.33 H689 V221.26 H690 V234.13 H691 V245.35 H692 V258 H693 V258 Z" fill="#4a6e8b"/>
<path d="M501.1,173.9 V261.02" fill="none" stroke="#000" stroke-width="1.5"/>
<path d="M500.5,261.02 H698.1" fill="none" stroke="#1a1a1a" stroke-width="1.3"/>
<path d="M498.6,257.9 H501.1 M498.6,240.3 H501.1 M498.6,222.7 H501.1 M498.6,205.3 H501.1 M498.6,187.4 H501.1" stroke="#111" stroke-width="0.8"/>
<text x="496.2" y="259" font-size="3.9" text-anchor="end" fill="#111">0</text>
<text x="496.2" y="241.4" font-size="3.9" text-anchor="end" fill="#111">20</text>
<text x="496.2" y="223.8" font-size="3.9" text-anchor="end" fill="#111">40</text>
<text x="496.2" y="206.4" font-size="3.9" text-anchor="end" fill="#111">60</text>
<text x="496.2" y="188.5" font-size="3.9" text-anchor="end" fill="#111">80</text>
<path d="M628.8,261.02 V263.62" stroke="#111" stroke-width="0.8"/>
<text x="628.8" y="269.42" font-size="3.5" text-anchor="middle" fill="#000">2021</text>
<path d="M698.3,184.8 V257.9 M698.3,257.9 H700.8 M698.3,245.7 H700.8 M698.3,233.4 H700.8 M698.3,221.4 H700.8 M698.3,209.1 H700.8 M698.3,197.1 H700.8 M698.3,184.8 H700.8" fill="none" stroke="#000" stroke-width="1.1"/>
<text transform="translate(706.1,258.7) rotate(-90)" font-size="3.4" text-anchor="middle" fill="#222">0</text>
<text transform="translate(706.1,246.5) rotate(-90)" font-size="3.4" text-anchor="middle" fill="#222">1 000</text>
<text transform="translate(706.1,222.2) rotate(-90)" font-size="3.4" text-anchor="middle" fill="#222">3 000</text>
<text transform="translate(706.1,197.9) rotate(-90)" font-size="3.4" text-anchor="middle" fill="#222">5 000</text>
<path d="M508.4,258 L511.89,257.99 L516.77,257.98 L522.53,257.96 L528.66,257.94 L534.65,257.92 L540,257.9 L544.89,257.89 L549.76,257.9 L554.49,257.9 L558.97,257.88 L563.08,257.82 L566.7,257.7 L569.73,257.51 L572.26,257.27 L574.41,256.98 L576.33,256.67 L578.15,256.34 L580,256 L581.89,255.64 L583.7,255.26 L585.41,254.85 L587,254.44 L588.44,254.06 L589.7,253.7 L590.72,253.41 L591.49,253.18 L592.11,252.96 L592.68,252.72 L593.28,252.42 L594,252 L594.86,251.46 L595.8,250.84 L596.77,250.15 L597.73,249.41 L598.66,248.66 L599.5,247.9 L600.25,247.12 L600.94,246.3 L601.58,245.45 L602.21,244.6 L602.84,243.78 L603.5,243 L604.19,242.26 L604.88,241.53 L605.58,240.83 L606.29,240.15 L606.99,239.5 L607.7,238.9 L608.4,238.34 L609.09,237.82 L609.78,237.33 L610.48,236.87 L611.22,236.43 L612,236 L612.81,235.59 L613.64,235.19 L614.5,234.82 L615.4,234.46 L616.37,234.12 L617.4,233.8 L618.53,233.49 L619.75,233.21 L621.02,232.94 L622.33,232.68 L623.63,232.44 L624.9,232.2 L626.14,231.98 L627.37,231.77 L628.6,231.57 L629.83,231.39 L631.06,231.2 L632.3,231 L633.59,230.8 L634.93,230.59 L636.27,230.38 L637.56,230.18 L638.76,229.98 L639.8,229.8 L640.65,229.66 L641.33,229.55 L641.91,229.46 L642.45,229.34 L643.03,229.16 L643.7,228.9 L644.47,228.6 L645.29,228.3 L646.13,227.94 L646.99,227.47 L647.85,226.84 L648.7,226 L649.53,224.86 L650.37,223.44 L651.2,221.86 L652.03,220.23 L652.87,218.67 L653.7,217.3 L654.52,216.14 L655.32,215.1 L656.13,214.13 L656.94,213.17 L657.8,212.18 L658.7,211.1 L659.68,209.88 L660.72,208.56 L661.8,207.19 L662.88,205.87 L663.92,204.65 L664.9,203.6 L665.8,202.78 L666.66,202.13 L667.48,201.59 L668.28,201.09 L669.08,200.55 L669.9,199.9 L670.73,199.16 L671.57,198.37 L672.4,197.56 L673.23,196.7 L674.07,195.82 L674.9,194.9 L675.73,193.95 L676.57,192.97 L677.41,191.96 L678.24,190.91 L679.07,189.82 L679.9,188.7 L680.71,187.49 L681.51,186.18 L682.31,184.84 L683.12,183.52 L683.94,182.29 L684.8,181.2 L685.76,180.24 L686.82,179.34 L687.91,178.53 L688.92,177.83 L689.78,177.24 L690.4,176.8" fill="none" stroke="#ff0000" stroke-width="3.4" stroke-linecap="round" stroke-linejoin="round"/>
<text x="690.4" y="173.9" font-size="3.8" font-weight="bold" text-anchor="middle" fill="#ff1a1a">6639</text>
<text x="655.5" y="214.7" font-size="3.8" font-weight="bold" text-anchor="middle" fill="#ff1a1a">3xxx</text>
<text x="612.1" y="234.6" font-size="3.8" font-weight="bold" text-anchor="middle" fill="#ff1a1a">16xx</text>
<text x="599.6" y="167.3" font-size="7" font-weight="bold" text-anchor="middle" fill="#000" stroke="#000" stroke-width="0.18">Ήπειρος</text>
<path d="M65,399.6 V318.3 H66 V318.3 H67 V399.6 H68 V399.6 H69 V399.6 H70 V399.6 H71 V399.6 H72 V399.6 H73 V399.6 H74 V399.6 H75 V399.6 H76 V399.6 H77 V399.6 H78 V399.6 H79 V399.6 H80 V399.6 H81 V399.6 H82 V399.6 H83 V399.6 H84 V399.6 H85 V399.6 H86 V399.6 H87 V399.6 H88 V399.6 H89 V399.6 H90 V399.6 H91 V399.6 H92 V399.6 H93 V399.6 H94 V399.6 H95 V399.6 H96 V399.6 H97 V399.6 H98 V399.6 H99 V399.6 H100 V399.6 H101 V399.6 H102 V399.6 H103 V399.6 H104 V399.6 H105 V399.6 H106 V399.6 H107 V399.6 H108 V399.6 H109 V399.6 H110 V399.6 H111 V399.6 H112 V394.6 H113 V394.6 H114 V399.6 H115 V399.6 H116 V399.6 H117 V399.6 H118 V394.6 H119 V394.6 H120 V394.6 H121 V394.6 H122 V399.6 H123 V399.6 H124 V399.6 H125 V399.6 H126 V399.6 H127 V399.6 H128 V399.6 H129 V380.7 H130 V380.7 H131 V399.6 H132 V397.02 H133 V393.4 H134 V393.4 H135 V393.4 H136 V393.4 H137 V391.85 H138 V390.22 H139 V388.59 H140 V386.11 H141 V378.5 H142 V378.84 H143 V378.7 H144 V375.3 H145 V359.2 H146 V363.72 H147 V373.47 H148 V369.1 H149 V372.99 H150 V378.22 H151 V375.4 H152 V376.27 H153 V378.21 H154 V379.18 H155 V377.94 H156 V375.86 H157 V374.1 H158 V378.65 H159 V385.65 H160 V388.59 H161 V388.78 H162 V385.43 H163 V381.6 H164 V377.2 H165 V378.91 H166 V383.8 H167 V386.39 H168 V386.58 H169 V384.82 H170 V383.5 H171 V384 H172 V384.25 H173 V383.25 H174 V382.8 H175 V383.85 H176 V384.7 H177 V386.68 H178 V384.14 H179 V377.07 H180 V371 H181 V375.9 H182 V378.91 H183 V378.38 H184 V374.7 H185 V373.59 H186 V372.11 H187 V369.12 H188 V362.27 H189 V356.1 H190 V353.48 H191 V349.8 H192 V349.2 H193 V347.16 H194 V319.9 H195 V325.84 H196 V334.28 H197 V331.69 H198 V331.2 H199 V332.48 H200 V336.12 H201 V338.75 H202 V331.98 H203 V327.4 H204 V340.09 H205 V336.09 H206 V331.8 H207 V340.97 H208 V346.17 H209 V344.01 H210 V333.81 H211 V323.1 H212 V333.6 H213 V350.59 H214 V349.8 H215 V351.43 H216 V352.97 H217 V349.8 H218 V353.33 H219 V358.5 H220 V359.12 H221 V356.97 H222 V348.87 H223 V343.6 H224 V354.2 H225 V361.51 H226 V361 H227 V370.05 H228 V371.76 H229 V368.5 H230 V375.53 H231 V376.26 H232 V376 H233 V398.54 H234 V399.6 Z" fill="#4a6e8b"/>
<path d="M43,315.4 V402.44" fill="none" stroke="#000" stroke-width="1.5"/>
<path d="M42.4,402.44 H240" fill="none" stroke="#1a1a1a" stroke-width="1.3"/>
<path d="M40.5,399.1 H43 M40.5,372.5 H43 M40.5,345.7 H43 M40.5,319.1 H43" stroke="#111" stroke-width="0.8"/>
<text x="38.1" y="400.2" font-size="3.9" text-anchor="end" fill="#111">0</text>
<text x="38.1" y="373.6" font-size="3.9" text-anchor="end" fill="#111">50</text>
<text x="38.1" y="346.8" font-size="3.9" text-anchor="end" fill="#111">100</text>
<text x="38.1" y="320.2" font-size="3.9" text-anchor="end" fill="#111">150</text>
<text transform="translate(27.1,358.9) rotate(-90)" font-size="3.8" text-anchor="middle" fill="#222" textLength="50" lengthAdjust="spacingAndGlyphs">Αριθμός νέων κρουσμάτων</text>
<path d="M170.5,402.44 V405.04" stroke="#111" stroke-width="0.8"/>
<text x="170.5" y="410.84" font-size="3.5" text-anchor="middle" fill="#000">2021</text>
<path d="M240.2,323.2 V399.6 M240.2,399.6 H242.7 M240.2,384.3 H242.7 M240.2,368.8 H242.7 M240.2,353.9 H242.7 M240.2,338.5 H242.7 M240.2,323.2 H242.7" fill="none" stroke="#000" stroke-width="1.1"/>
<text transform="translate(248,400.4) rotate(-90)" font-size="3.4" text-anchor="middle" fill="#222">0</text>
<text transform="translate(248,385.1) rotate(-90)" font-size="3.4" text-anchor="middle" fill="#222">2 000</text>
<text transform="translate(248,369.6) rotate(-90)" font-size="3.4" text-anchor="middle" fill="#222">4 000</text>
<text transform="translate(248,354.7) rotate(-90)" font-size="3.4" text-anchor="middle" fill="#222">6 000</text>
<text transform="translate(248,339.3) rotate(-90)" font-size="3.4" text-anchor="middle" fill="#222">8 000</text>
<text transform="translate(248,324) rotate(-90)" font-size="3.4" text-anchor="middle" fill="#222">10 000</text>
<path d="M50.3,399.5 L52.05,399.47 L54.6,399.43 L57.56,399.37 L60.53,399.31 L63.14,399.22 L65,399.1 L65.64,398.94 L65.29,398.74 L64.58,398.53 L64.12,398.3 L64.55,398.09 L66.5,397.9 L70.27,397.74 L75.43,397.6 L81.47,397.46 L87.91,397.34 L94.25,397.22 L100,397.1 L105.48,397 L111.14,396.91 L116.71,396.82 L121.89,396.74 L126.42,396.63 L130,396.5 L132.41,396.36 L133.83,396.21 L134.58,396.06 L135.01,395.86 L135.44,395.62 L136.2,395.3 L137.25,394.9 L138.3,394.43 L139.35,393.91 L140.4,393.36 L141.45,392.78 L142.5,392.2 L143.54,391.6 L144.57,390.96 L145.61,390.3 L146.64,389.64 L147.67,389 L148.7,388.4 L149.73,387.83 L150.77,387.28 L151.8,386.74 L152.83,386.23 L153.87,385.75 L154.9,385.3 L155.93,384.89 L156.96,384.52 L157.99,384.18 L159.03,383.86 L160.06,383.53 L161.1,383.2 L162.15,382.86 L163.2,382.53 L164.25,382.2 L165.3,381.87 L166.35,381.54 L167.4,381.2 L168.44,380.86 L169.47,380.52 L170.51,380.18 L171.54,379.83 L172.57,379.47 L173.6,379.1 L174.64,378.7 L175.7,378.27 L176.76,377.84 L177.81,377.4 L178.82,376.99 L179.8,376.6 L180.73,376.27 L181.61,375.99 L182.48,375.73 L183.32,375.44 L184.16,375.11 L185,374.7 L185.84,374.23 L186.68,373.74 L187.51,373.2 L188.34,372.58 L189.17,371.86 L190,371 L190.85,369.97 L191.71,368.78 L192.58,367.48 L193.43,366.13 L194.24,364.79 L195,363.5 L195.68,362.25 L196.28,360.99 L196.85,359.72 L197.42,358.48 L198.02,357.27 L198.7,356.1 L199.46,355 L200.27,353.96 L201.12,352.95 L201.99,351.94 L202.85,350.9 L203.7,349.8 L204.55,348.61 L205.41,347.35 L206.28,346.06 L207.13,344.77 L207.94,343.54 L208.7,342.4 L209.38,341.36 L209.98,340.4 L210.55,339.49 L211.12,338.6 L211.72,337.71 L212.4,336.8 L213.16,335.86 L213.97,334.91 L214.82,333.96 L215.69,333.02 L216.55,332.1 L217.4,331.2 L218.23,330.33 L219.07,329.49 L219.91,328.66 L220.74,327.84 L221.57,327.03 L222.4,326.2 L223.21,325.34 L224.01,324.46 L224.81,323.58 L225.62,322.73 L226.44,321.92 L227.3,321.2 L228.26,320.54 L229.32,319.91 L230.41,319.34 L231.42,318.83 L232.28,318.42 L232.9,318.1" fill="none" stroke="#ff0000" stroke-width="3.4" stroke-linecap="round" stroke-linejoin="round"/>
<text x="232.3" y="315.7" font-size="3.8" font-weight="bold" text-anchor="middle" fill="#ff1a1a">10844</text>
<text x="174.8" y="375.5" font-size="3.8" font-weight="bold" text-anchor="middle" fill="#ff1a1a">2670</text>
<text x="195.8" y="355.6" font-size="3.8" font-weight="bold" text-anchor="middle" fill="#ff1a1a">5xx</text>
<text x="141.5" y="308.8" font-size="7" font-weight="bold" text-anchor="middle" fill="#000" stroke="#000" stroke-width="0.18">Πελοπόννησος</text>
<path d="M338,399.6 V394.6 H339 V394.42 H340 V394.18 H341 V392.1 H342 V386.4 H343 V390.6 H344 V392.1 H345 V391.45 H346 V390.45 H347 V389.7 H348 V389.7 H349 V389.7 H350 V389.7 H351 V390.95 H352 V391.95 H353 V392.56 H354 V393.04 H355 V393.4 H356 V393.4 H357 V393.37 H358 V393.27 H359 V393.16 H360 V393.06 H361 V392.2 H362 V394.58 H363 V395.9 H364 V395.9 H365 V395.9 H366 V395.9 H367 V395.9 H368 V395.9 H369 V392.41 H370 V386.35 H371 V385.35 H372 V384.24 H373 V382.92 H374 V378.63 H375 V370.68 H376 V367.9 H377 V372.22 H378 V369.1 H379 V370.75 H380 V372.28 H381 V371.33 H382 V371 H383 V374.83 H384 V376.26 H385 V376.6 H386 V377.69 H387 V378.5 H388 V383.71 H389 V385.79 H390 V386.55 H391 V387.2 H392 V389.44 H393 V390.9 H394 V393.05 H395 V394.58 H396 V395.86 H397 V396.3 H398 V394.3 H399 V391.51 H400 V387.2 H401 V386.25 H402 V385.3 H403 V386.14 H404 V387.2 H405 V387.2 H406 V390.49 H407 V392.55 H408 V390.42 H409 V384.7 H410 V382.2 H411 V379.55 H412 V378.95 H413 V377.38 H414 V372.9 H415 V369.1 H416 V369.54 H417 V369.9 H418 V367.9 H419 V365.67 H420 V359.08 H421 V354.8 H422 V355.75 H423 V356.48 H424 V356.1 H425 V351.09 H426 V344.9 H427 V345.94 H428 V344.54 H429 V331.2 H430 V333.81 H431 V338.2 H432 V328 H433 V343.03 H434 V352.34 H435 V327.4 H436 V333.86 H437 V318.1 H438 V318.1 H439 V335.13 H440 V323.65 H441 V318.7 H442 V323.45 H443 V324.9 H444 V324.9 H445 V339.03 H446 V343.57 H447 V344.9 H448 V355.33 H449 V341.33 H450 V331.7 H451 V324.93 H452 V321.2 H453 V339.31 H454 V338.76 H455 V331.2 H456 V341.75 H457 V337.78 H458 V325.5 H459 V346.4 H460 V359.25 H461 V360.92 H462 V398 H463 V399.6 Z" fill="#4a6e8b"/>
<path d="M272.05,315.4 V402.44" fill="none" stroke="#000" stroke-width="1.5"/>
<path d="M271.45,402.44 H469.05" fill="none" stroke="#1a1a1a" stroke-width="1.3"/>
<path d="M269.55,399.1 H272.05 M269.55,373.3 H272.05 M269.55,347.5 H272.05 M269.55,322 H272.05" stroke="#111" stroke-width="0.8"/>
<text x="267.15" y="400.2" font-size="3.9" text-anchor="end" fill="#111">0</text>
<text x="267.15" y="374.4" font-size="3.9" text-anchor="end" fill="#111">50</text>
<text x="267.15" y="348.6" font-size="3.9" text-anchor="end" fill="#111">100</text>
<text x="267.15" y="323.1" font-size="3.9" text-anchor="end" fill="#111">150</text>
<path d="M399.8,402.44 V405.04" stroke="#111" stroke-width="0.8"/>
<text x="399.8" y="410.84" font-size="3.5" text-anchor="middle" fill="#000">2021</text>
<path d="M469.25,317.8 V399.9 M469.25,399.9 H471.75 M469.25,386.1 H471.75 M469.25,372.5 H471.75 M469.25,358.8 H471.75 M469.25,345 H471.75 M469.25,331.4 H471.75 M469.25,317.8 H471.75" fill="none" stroke="#000" stroke-width="1.1"/>
<text transform="translate(477.05,400.7) rotate(-90)" font-size="3.4" text-anchor="middle" fill="#222">0</text>
<text transform="translate(477.05,386.9) rotate(-90)" font-size="3.4" text-anchor="middle" fill="#222">2 000</text>
<text transform="translate(477.05,373.3) rotate(-90)" font-size="3.4" text-anchor="middle" fill="#222">4 000</text>
<text transform="translate(477.05,359.6) rotate(-90)" font-size="3.4" text-anchor="middle" fill="#222">6 000</text>
<text transform="translate(477.05,345.8) rotate(-90)" font-size="3.4" text-anchor="middle" fill="#222">8 000</text>
<text transform="translate(477.05,318.6) rotate(-90)" font-size="3.4" text-anchor="middle" fill="#222">12 000</text>
<path d="M279.35,399.5 L285.93,399.41 L295.47,399.3 L306.55,399.16 L317.77,399 L327.72,398.85 L335,398.7 L339.35,398.56 L341.86,398.42 L343.09,398.28 L343.64,398.13 L344.08,397.97 L345,397.8 L346.25,397.61 L347.34,397.39 L348.33,397.17 L349.27,396.94 L350.2,396.72 L351.2,396.5 L352.25,396.29 L353.3,396.08 L354.35,395.88 L355.4,395.67 L356.45,395.48 L357.5,395.3 L358.52,395.14 L359.53,395 L360.52,394.87 L361.54,394.74 L362.59,394.59 L363.7,394.4 L364.9,394.19 L366.2,393.97 L367.53,393.74 L368.84,393.47 L370.09,393.16 L371.2,392.8 L372.15,392.39 L372.97,391.93 L373.73,391.42 L374.46,390.89 L375.23,390.31 L376.1,389.7 L377.07,389.03 L378.1,388.28 L379.17,387.5 L380.26,386.72 L381.34,385.97 L382.4,385.3 L383.44,384.68 L384.47,384.09 L385.51,383.54 L386.54,383.03 L387.57,382.58 L388.6,382.2 L389.63,381.91 L390.67,381.71 L391.7,381.56 L392.73,381.45 L393.77,381.34 L394.8,381.2 L395.86,381.04 L396.95,380.89 L398.04,380.73 L399.1,380.58 L400.09,380.44 L401,380.3 L401.77,380.18 L402.41,380.07 L403,379.96 L403.59,379.86 L404.23,379.74 L405,379.6 L405.9,379.46 L406.9,379.34 L407.96,379.2 L409.04,379.03 L410.14,378.8 L411.2,378.5 L412.25,378.13 L413.3,377.71 L414.35,377.23 L415.4,376.69 L416.45,376.08 L417.5,375.4 L418.54,374.65 L419.57,373.84 L420.61,372.96 L421.64,372 L422.67,370.95 L423.7,369.8 L424.73,368.52 L425.77,367.1 L426.8,365.59 L427.83,364.04 L428.87,362.5 L429.9,361 L430.93,359.56 L431.96,358.14 L432.99,356.72 L434.03,355.29 L435.06,353.82 L436.1,352.3 L437.16,350.68 L438.24,348.96 L439.33,347.2 L440.4,345.48 L441.43,343.86 L442.4,342.4 L443.3,341.14 L444.13,340.03 L444.93,339.02 L445.71,338.06 L446.49,337.1 L447.3,336.1 L448.13,335.06 L448.96,334.03 L449.79,332.99 L450.63,331.96 L451.47,330.93 L452.3,329.9 L453.13,328.86 L453.97,327.81 L454.8,326.76 L455.63,325.72 L456.47,324.7 L457.3,323.7 L458.19,322.67 L459.15,321.58 L460.11,320.51 L461,319.53 L461.76,318.7 L462.3,318.1" fill="none" stroke="#ff0000" stroke-width="3.4" stroke-linecap="round" stroke-linejoin="round"/>
<text x="460.8" y="315.7" font-size="3.8" font-weight="bold" text-anchor="middle" fill="#ff1a1a">11956</text>
<text x="411.3" y="375.5" font-size="3.8" font-weight="bold" text-anchor="middle" fill="#ff1a1a">3xxx</text>
<text x="430.9" y="356" font-size="3.8" font-weight="bold" text-anchor="middle" fill="#ff1a1a">6xx</text>
<text x="370.55" y="308.8" font-size="7" font-weight="bold" text-anchor="middle" fill="#000" stroke="#000" stroke-width="0.18">Κρήτη</text>
<path d="M508,399.6 V386.9 H509 V386.9 H510 V386.9 H511 V399.6 H512 V399.6 H513 V399.6 H514 V399.6 H515 V399.6 H516 V399.6 H517 V399.6 H518 V399.6 H519 V399.6 H520 V399.6 H521 V399.6 H522 V399.6 H523 V399.6 H524 V399.6 H525 V399.6 H526 V399.6 H527 V399.6 H528 V399.6 H529 V399.6 H530 V399.6 H531 V399.6 H532 V399.6 H533 V399.6 H534 V399.6 H535 V399.6 H536 V399.6 H537 V399.6 H538 V399.6 H539 V399.6 H540 V399.6 H541 V399.6 H542 V399.6 H543 V399.6 H544 V399.6 H545 V399.6 H546 V399.6 H547 V399.6 H548 V399.6 H549 V399.6 H550 V399.6 H551 V399.6 H552 V399.6 H553 V399.6 H554 V399.6 H555 V399.6 H556 V399.6 H557 V399.6 H558 V399.6 H559 V399.6 H560 V399.6 H561 V399.6 H562 V399.6 H563 V399.6 H564 V399.6 H565 V399.6 H566 V399.6 H567 V399.6 H568 V399.6 H569 V399.6 H570 V399.6 H571 V399.6 H572 V399.6 H573 V399.6 H574 V399.6 H575 V399.6 H576 V399.6 H577 V399.6 H578 V399.6 H579 V399.6 H580 V399.6 H581 V399.6 H582 V399.6 H583 V399.6 H584 V399.6 H585 V399.6 H586 V399.6 H587 V399.6 H588 V399.6 H589 V399.6 H590 V399.6 H591 V399.6 H592 V398.08 H593 V393.38 H594 V392.8 H595 V392.8 H596 V394.6 H597 V394.41 H598 V394.22 H599 V394 H600 V393.73 H601 V393.4 H602 V391.2 H603 V388.25 H604 V383.5 H605 V384.17 H606 V384.26 H607 V380.75 H608 V376 H609 V376.26 H610 V376.24 H611 V372.2 H612 V374.56 H613 V376.16 H614 V373.5 H615 V379.75 H616 V386 H617 V386 H618 V386.57 H619 V386.85 H620 V386.22 H621 V386 H622 V386.73 H623 V387.2 H624 V387.99 H625 V388.89 H626 V390.27 H627 V393.02 H628 V392.03 H629 V389.7 H630 V391.08 H631 V390.83 H632 V388.4 H633 V389.94 H634 V394.36 H635 V390.15 H636 V387.75 H637 V386.75 H638 V384.95 H639 V379.7 H640 V374.75 H641 V368.43 H642 V362.93 H643 V359.15 H644 V356.02 H645 V352.9 H646 V354.2 H647 V356.1 H648 V360.44 H649 V351.21 H650 V338 H651 V338 H652 V348.92 H653 V339.2 H654 V340.62 H655 V344.68 H656 V340.5 H657 V344.58 H658 V342.96 H659 V329.3 H660 V336.45 H661 V338.36 H662 V334.9 H663 V338.4 H664 V336.98 H665 V334.38 H666 V332.28 H667 V330.5 H668 V339.46 H669 V349.8 H670 V350.66 H671 V356.9 H672 V367.23 H673 V362.3 H674 V366.59 H675 V370.38 H676 V367.58 H677 V366.6 H678 V376.22 H679 V353.02 H680 V334.26 H681 V318.7 H682 V327.71 H683 V341.15 H684 V332.4 H685 V342.75 H686 V360.65 H687 V358.5 H688 V365.08 H689 V374.7 H690 V375.84 H691 V399.6 H692 V399.6 Z" fill="#4a6e8b"/>
<path d="M501.1,315.4 V402.44" fill="none" stroke="#000" stroke-width="1.5"/>
<path d="M500.5,402.44 H698.1" fill="none" stroke="#1a1a1a" stroke-width="1.3"/>
<path d="M498.6,399.1 H501.1 M498.6,384.3 H501.1 M498.6,369.2 H501.1 M498.6,354.4 H501.1 M498.6,339.6 H501.1 M498.6,324.5 H501.1" stroke="#111" stroke-width="0.8"/>
<text x="496.2" y="400.2" font-size="3.9" text-anchor="end" fill="#111">0</text>
<text x="496.2" y="385.4" font-size="3.9" text-anchor="end" fill="#111">50</text>
<text x="496.2" y="370.3" font-size="3.9" text-anchor="end" fill="#111">100</text>
<text x="496.2" y="355.5" font-size="3.9" text-anchor="end" fill="#111">150</text>
<text x="496.2" y="340.7" font-size="3.9" text-anchor="end" fill="#111">200</text>
<text x="496.2" y="325.6" font-size="3.9" text-anchor="end" fill="#111">250</text>
<path d="M630.3,402.44 V405.04" stroke="#111" stroke-width="0.8"/>
<text x="630.3" y="410.84" font-size="3.5" text-anchor="middle" fill="#000">2021</text>
<path d="M698.3,335.2 V399.6 M698.3,399.6 H700.8 M698.3,378.2 H700.8 M698.3,356.9 H700.8 M698.3,335.2 H700.8" fill="none" stroke="#000" stroke-width="1.1"/>
<text transform="translate(706.1,400.4) rotate(-90)" font-size="3.4" text-anchor="middle" fill="#222">0</text>
<text transform="translate(706.1,379) rotate(-90)" font-size="3.4" text-anchor="middle" fill="#222">5 000</text>
<text transform="translate(706.1,357.7) rotate(-90)" font-size="3.4" text-anchor="middle" fill="#222">10 000</text>
<text transform="translate(706.1,336) rotate(-90)" font-size="3.4" text-anchor="middle" fill="#222">15 000</text>
<path d="M508.4,399.5 L516.89,399.4 L529.2,399.26 L543.5,399.1 L557.96,398.93 L570.73,398.75 L580,398.6 L585.42,398.47 L588.39,398.34 L589.68,398.23 L590.07,398.1 L590.32,397.96 L591.2,397.8 L592.53,397.61 L593.67,397.4 L594.66,397.18 L595.59,396.94 L596.51,396.72 L597.5,396.5 L598.54,396.32 L599.57,396.16 L600.61,396.01 L601.64,395.84 L602.67,395.61 L603.7,395.3 L604.73,394.89 L605.77,394.39 L606.8,393.83 L607.83,393.26 L608.87,392.7 L609.9,392.2 L610.93,391.74 L611.96,391.3 L612.99,390.87 L614.03,390.47 L615.06,390.07 L616.1,389.7 L617.15,389.35 L618.2,389.01 L619.25,388.69 L620.3,388.39 L621.35,388.09 L622.4,387.8 L623.44,387.51 L624.47,387.24 L625.51,386.98 L626.54,386.71 L627.57,386.46 L628.6,386.2 L629.65,385.95 L630.71,385.7 L631.78,385.46 L632.82,385.21 L633.84,384.96 L634.8,384.7 L635.7,384.46 L636.55,384.25 L637.36,384.04 L638.16,383.78 L638.97,383.45 L639.8,383 L640.66,382.43 L641.53,381.77 L642.4,381.04 L643.27,380.24 L644.14,379.39 L645,378.5 L645.85,377.57 L646.69,376.57 L647.52,375.53 L648.35,374.45 L649.17,373.33 L650,372.2 L650.82,371.03 L651.64,369.82 L652.45,368.57 L653.26,367.31 L654.08,366.05 L654.9,364.8 L655.73,363.56 L656.56,362.31 L657.39,361.06 L658.23,359.8 L659.07,358.55 L659.9,357.3 L660.73,356.05 L661.57,354.8 L662.4,353.54 L663.23,352.29 L664.07,351.04 L664.9,349.8 L665.73,348.53 L666.57,347.21 L667.4,345.91 L668.23,344.64 L669.07,343.46 L669.9,342.4 L670.74,341.48 L671.59,340.69 L672.44,339.97 L673.29,339.3 L674.11,338.66 L674.9,338 L675.67,337.38 L676.43,336.83 L677.17,336.31 L677.88,335.74 L678.56,335.09 L679.2,334.3 L679.78,333.32 L680.3,332.19 L680.78,330.97 L681.26,329.72 L681.76,328.51 L682.3,327.4 L682.88,326.38 L683.47,325.39 L684.08,324.44 L684.72,323.52 L685.39,322.64 L686.1,321.8 L686.92,320.96 L687.86,320.11 L688.84,319.3 L689.76,318.57 L690.54,317.95 L691.1,317.5" fill="none" stroke="#ff0000" stroke-width="3.4" stroke-linecap="round" stroke-linejoin="round"/>
<text x="690.8" y="315.7" font-size="3.8" font-weight="bold" text-anchor="middle" fill="#ff1a1a">19301</text>
<text x="658.4" y="356" font-size="3.8" font-weight="bold" text-anchor="middle" fill="#ff1a1a">9xx</text>
<text x="645" y="375.5" font-size="3.8" font-weight="bold" text-anchor="middle" fill="#ff1a1a">67xx</text>
<text x="599.6" y="308.8" font-size="7" font-weight="bold" text-anchor="middle" fill="#000" stroke="#000" stroke-width="0.18">Δυτική Ελλάδα</text>
<path d="M59,540.6 V531.2 H60 V531.2 H61 V531.2 H62 V540.6 H63 V534.8 H64 V534.8 H65 V540.6 H66 V540.6 H67 V540.6 H68 V540.6 H69 V540.6 H70 V540.6 H71 V540.6 H72 V540.6 H73 V540.6 H74 V540.6 H75 V540.6 H76 V540.6 H77 V540.6 H78 V540.6 H79 V540.6 H80 V540.6 H81 V540.6 H82 V540.6 H83 V540.6 H84 V540.6 H85 V540.6 H86 V540.6 H87 V540.6 H88 V540.6 H89 V540.6 H90 V540.6 H91 V540.6 H92 V540.6 H93 V540.6 H94 V540.6 H95 V540.6 H96 V540.6 H97 V540.6 H98 V540.6 H99 V538.5 H100 V538.5 H101 V538.5 H102 V540.6 H103 V540.6 H104 V540.6 H105 V540.6 H106 V540.6 H107 V540.6 H108 V540.6 H109 V540.6 H110 V540.6 H111 V540.6 H112 V540.6 H113 V540.6 H114 V540.6 H115 V540.6 H116 V540.6 H117 V540.6 H118 V540.6 H119 V540.6 H120 V540.6 H121 V540.6 H122 V540.6 H123 V536.1 H124 V536.1 H125 V536.1 H126 V536.1 H127 V540.6 H128 V540.6 H129 V538.2 H130 V538.2 H131 V538.2 H132 V538.2 H133 V538.08 H134 V535.77 H135 V533.8 H136 V534.45 H137 V535.14 H138 V532.92 H139 V530.69 H140 V528.8 H141 V530.31 H142 V532.62 H143 V533.7 H144 V533.52 H145 V531.58 H146 V527.81 H147 V522.54 H148 V515.54 H149 V506.4 H150 V508.87 H151 V515.94 H152 V517.64 H153 V518.2 H154 V522.82 H155 V515.1 H156 V517.29 H157 V522.88 H158 V518.25 H159 V515.7 H160 V517.96 H161 V515.53 H162 V513.9 H163 V527.7 H164 V531.9 H165 V531.9 H166 V531.9 H167 V531.9 H168 V531.6 H169 V529.6 H170 V527.6 H171 V523.52 H172 V518.32 H173 V513.9 H174 V516.23 H175 V519.81 H176 V524.87 H177 V528.05 H178 V522.15 H179 V516.38 H180 V510.72 H181 V507.6 H182 V512.41 H183 V510.15 H184 V502 H185 V498.57 H186 V493.3 H187 V496.3 H188 V504.86 H189 V517.94 H190 V513.2 H191 V504.64 H192 V499.5 H193 V500.41 H194 V494.71 H195 V488.66 H196 V482.1 H197 V480.26 H198 V479 H199 V478.96 H200 V466.09 H201 V460.3 H202 V485.68 H203 V472.8 H204 V476.65 H205 V478.75 H206 V462.8 H207 V471.91 H208 V482.1 H209 V477.1 H210 V487.12 H211 V494.38 H212 V490.35 H213 V481.91 H214 V472.2 H215 V475.4 H216 V484.53 H217 V481.5 H218 V481.5 H219 V496.58 H220 V511.85 H221 V480.83 H222 V479.52 H223 V478.4 H224 V487.54 H225 V499.5 H226 V499.5 H227 V503.73 H228 V508.31 H229 V507.6 H230 V512.12 H231 V515.26 H232 V517.6 H233 V538.47 H234 V540.6 Z" fill="#4a6e8b"/>
<path d="M43,456.9 V543.86" fill="none" stroke="#000" stroke-width="1.5"/>
<path d="M42.4,543.86 H240" fill="none" stroke="#1a1a1a" stroke-width="1.3"/>
<path d="M40.5,540.6 H43 M40.5,520.4 H43 M40.5,500 H43 M40.5,479.8 H43 M40.5,459.3 H43" stroke="#111" stroke-width="0.8"/>
<text x="38.1" y="541.7" font-size="3.9" text-anchor="end" fill="#111">0</text>
<text x="38.1" y="521.5" font-size="3.9" text-anchor="end" fill="#111">50</text>
<text x="38.1" y="501.1" font-size="3.9" text-anchor="end" fill="#111">100</text>
<text x="38.1" y="480.9" font-size="3.9" text-anchor="end" fill="#111">150</text>
<text x="38.1" y="460.4" font-size="3.9" text-anchor="end" fill="#111">200</text>
<text transform="translate(27.1,500.4) rotate(-90)" font-size="3.8" text-anchor="middle" fill="#222" textLength="50" lengthAdjust="spacingAndGlyphs">Αριθμός νέων κρουσμάτων</text>
<path d="M171.4,543.86 V546.46" stroke="#111" stroke-width="0.8"/>
<text x="171.4" y="552.26" font-size="3.5" text-anchor="middle" fill="#000">2021</text>
<path d="M240.2,458 V540.9 M240.2,540.9 H242.7 M240.2,529 H242.7 M240.2,517.1 H242.7 M240.2,505.2 H242.7 M240.2,493.8 H242.7 M240.2,481.8 H242.7 M240.2,470 H242.7 M240.2,458 H242.7" fill="none" stroke="#000" stroke-width="1.1"/>
<text transform="translate(248,541.7) rotate(-90)" font-size="3.4" text-anchor="middle" fill="#222">0</text>
<text transform="translate(248,529.8) rotate(-90)" font-size="3.4" text-anchor="middle" fill="#222">1 000</text>
<text transform="translate(248,506) rotate(-90)" font-size="3.4" text-anchor="middle" fill="#222">3 000</text>
<text transform="translate(248,482.6) rotate(-90)" font-size="3.4" text-anchor="middle" fill="#222">5 000</text>
<text transform="translate(248,458.8) rotate(-90)" font-size="3.4" text-anchor="middle" fill="#222">7 000</text>
<path d="M50.3,540.5 L58.57,540.4 L70.58,540.26 L84.52,540.1 L98.61,539.93 L111.03,539.75 L120,539.6 L125.17,539.46 L127.9,539.32 L128.97,539.18 L129.16,539.05 L129.24,538.92 L130,538.8 L131.25,538.7 L132.34,538.61 L133.33,538.53 L134.27,538.44 L135.2,538.34 L136.2,538.2 L137.25,538.04 L138.3,537.86 L139.35,537.67 L140.4,537.45 L141.45,537.19 L142.5,536.9 L143.54,536.57 L144.57,536.2 L145.61,535.8 L146.64,535.37 L147.67,534.9 L148.7,534.4 L149.73,533.85 L150.77,533.23 L151.8,532.59 L152.83,531.93 L153.87,531.3 L154.9,530.7 L155.93,530.13 L156.96,529.58 L157.99,529.04 L159.03,528.52 L160.06,528.04 L161.1,527.6 L162.15,527.22 L163.2,526.9 L164.25,526.61 L165.3,526.33 L166.35,526.04 L167.4,525.7 L168.44,525.33 L169.47,524.93 L170.51,524.53 L171.54,524.1 L172.57,523.66 L173.6,523.2 L174.64,522.7 L175.7,522.14 L176.76,521.57 L177.81,521.01 L178.82,520.51 L179.8,520.1 L180.74,519.83 L181.66,519.68 L182.56,519.58 L183.41,519.47 L184.23,519.26 L185,518.9 L185.7,518.34 L186.34,517.64 L186.94,516.86 L187.51,516.03 L188.09,515.23 L188.7,514.5 L189.31,513.89 L189.91,513.36 L190.52,512.84 L191.14,512.29 L191.8,511.63 L192.5,510.8 L193.27,509.77 L194.08,508.58 L194.93,507.29 L195.8,505.94 L196.66,504.59 L197.5,503.3 L198.32,502.04 L199.14,500.77 L199.95,499.51 L200.76,498.25 L201.58,497.01 L202.4,495.8 L203.23,494.63 L204.06,493.49 L204.89,492.36 L205.73,491.25 L206.57,490.13 L207.4,489 L208.23,487.85 L209.07,486.7 L209.9,485.55 L210.73,484.4 L211.57,483.25 L212.4,482.1 L213.23,480.96 L214.07,479.83 L214.9,478.7 L215.73,477.57 L216.57,476.44 L217.4,475.3 L218.23,474.14 L219.07,472.96 L219.91,471.78 L220.74,470.61 L221.57,469.48 L222.4,468.4 L223.21,467.37 L224.01,466.37 L224.81,465.4 L225.62,464.48 L226.44,463.61 L227.3,462.8 L228.26,462.03 L229.32,461.29 L230.41,460.6 L231.42,459.99 L232.28,459.48 L232.9,459.1" fill="none" stroke="#ff0000" stroke-width="3.4" stroke-linecap="round" stroke-linejoin="round"/>
<text x="232.3" y="456.7" font-size="3.8" font-weight="bold" text-anchor="middle" fill="#ff1a1a">10xxx</text>
<text x="180.8" y="517.8" font-size="3.8" font-weight="bold" text-anchor="middle" fill="#ff1a1a">3xxx</text>
<text x="198.4" y="497" font-size="3.8" font-weight="bold" text-anchor="middle" fill="#ff1a1a">6xx</text>
<text x="141.5" y="450.3" font-size="7" font-weight="bold" text-anchor="middle" fill="#000" stroke="#000" stroke-width="0.18">Στερεά Ελλάδα</text>
<path d="M334,540.6 V538.2 H335 V538.2 H336 V538.2 H337 V538.2 H338 V538.2 H339 V528.2 H340 V528.2 H341 V532.11 H342 V535.05 H343 V533.13 H344 V531.82 H345 V530.54 H346 V529.4 H347 V528.08 H348 V527.6 H349 V532.78 H350 V524.35 H351 V517 H352 V517 H353 V527.11 H354 V529.74 H355 V524.6 H356 V509.5 H357 V460.3 H358 V460.3 H359 V519.77 H360 V531.9 H361 V531.9 H362 V531.9 H363 V531.9 H364 V531.9 H365 V531.9 H366 V532.41 H367 V532.71 H368 V531.33 H369 V527.81 H370 V522.54 H371 V511.41 H372 V506.4 H373 V513.53 H374 V517.87 H375 V513.28 H376 V507 H377 V509.12 H378 V510.51 H379 V510.1 H380 V507 H381 V503.9 H382 V507.96 H383 V515.16 H384 V513.9 H385 V514.63 H386 V516.27 H387 V518.27 H388 V518.45 H389 V513.2 H390 V513.79 H391 V515.11 H392 V515.1 H393 V517.68 H394 V525.06 H395 V527.39 H396 V527.56 H397 V525.02 H398 V522.6 H399 V526.49 H400 V531.08 H401 V526.93 H402 V521.87 H403 V520.1 H404 V523.26 H405 V528.35 H406 V535 H407 V535.39 H408 V532.08 H409 V526.51 H410 V520.1 H411 V522.85 H412 V530.72 H413 V533.6 H414 V535.6 H415 V536.6 H416 V535.79 H417 V531.9 H418 V529.93 H419 V526.9 H420 V524.71 H421 V522 H422 V519.99 H423 V518.11 H424 V517.47 H425 V515.64 H426 V510.2 H427 V508.3 H428 V517.81 H429 V515.49 H430 V513.9 H431 V516.99 H432 V515.1 H433 V515.1 H434 V516.95 H435 V515.37 H436 V511.02 H437 V509.5 H438 V518.09 H439 V522 H440 V524 H441 V525.96 H442 V527.91 H443 V529.86 H444 V531.8 H445 V531.9 H446 V531.14 H447 V529.4 H448 V528.18 H449 V526.3 H450 V524.38 H451 V522 H452 V517.9 H453 V515.1 H454 V516.86 H455 V518.55 H456 V519.55 H457 V518.26 H458 V517 H459 V521.25 H460 V526.09 H461 V530.62 H462 V531.72 H463 V540.6 Z" fill="#4a6e8b"/>
<path d="M272.05,456.9 V543.86" fill="none" stroke="#000" stroke-width="1.5"/>
<path d="M271.45,543.86 H469.05" fill="none" stroke="#1a1a1a" stroke-width="1.3"/>
<path d="M269.55,540.6 H272.05 M269.55,526.6 H272.05 M269.55,512.3 H272.05 M269.55,498.2 H272.05 M269.55,483.9 H272.05 M269.55,469.9 H272.05" stroke="#111" stroke-width="0.8"/>
<text x="267.15" y="541.7" font-size="3.9" text-anchor="end" fill="#111">0</text>
<text x="267.15" y="527.7" font-size="3.9" text-anchor="end" fill="#111">20</text>
<text x="267.15" y="513.4" font-size="3.9" text-anchor="end" fill="#111">40</text>
<text x="267.15" y="499.3" font-size="3.9" text-anchor="end" fill="#111">60</text>
<text x="267.15" y="485" font-size="3.9" text-anchor="end" fill="#111">80</text>
<text x="267.15" y="471" font-size="3.9" text-anchor="end" fill="#111">100</text>
<path d="M400.3,543.86 V546.46" stroke="#111" stroke-width="0.8"/>
<text x="400.3" y="552.26" font-size="3.5" text-anchor="middle" fill="#000">2021</text>
<path d="M469.25,470 V540.9 M469.25,540.9 H471.75 M469.25,523 H471.75 M469.25,505.2 H471.75 M469.25,487.7 H471.75 M469.25,470 H471.75" fill="none" stroke="#000" stroke-width="1.1"/>
<text transform="translate(477.05,541.7) rotate(-90)" font-size="3.4" text-anchor="middle" fill="#222">0</text>
<text transform="translate(477.05,523.8) rotate(-90)" font-size="3.4" text-anchor="middle" fill="#222">2 000</text>
<text transform="translate(477.05,506) rotate(-90)" font-size="3.4" text-anchor="middle" fill="#222">4 000</text>
<text transform="translate(477.05,488.5) rotate(-90)" font-size="3.4" text-anchor="middle" fill="#222">6 000</text>
<text transform="translate(477.05,470.8) rotate(-90)" font-size="3.4" text-anchor="middle" fill="#222">8 000</text>
<path d="M279.35,540.5 L285.99,540.49 L295.65,540.49 L306.86,540.47 L318.14,540.46 L328.01,540.44 L335,540.4 L338.76,540.37 L340.42,540.34 L340.67,540.31 L340.21,540.25 L339.75,540.15 L340,540 L340.83,539.78 L341.67,539.51 L342.51,539.19 L343.34,538.86 L344.17,538.52 L345,538.2 L345.82,537.88 L346.64,537.55 L347.45,537.22 L348.26,536.89 L349.08,536.58 L349.9,536.3 L350.76,536.05 L351.66,535.84 L352.56,535.64 L353.43,535.45 L354.22,535.24 L354.9,535 L355.45,534.74 L355.9,534.46 L356.27,534.17 L356.59,533.87 L356.89,533.55 L357.2,533.2 L357.47,532.81 L357.68,532.37 L357.86,531.92 L358.07,531.47 L358.33,531.06 L358.7,530.7 L359.17,530.42 L359.72,530.2 L360.33,530.01 L360.99,529.83 L361.68,529.63 L362.4,529.4 L363.16,529.14 L363.97,528.89 L364.82,528.61 L365.69,528.31 L366.55,527.98 L367.4,527.6 L368.23,527.18 L369.07,526.73 L369.91,526.25 L370.74,525.72 L371.57,525.14 L372.4,524.5 L373.22,523.79 L374.04,523.02 L374.85,522.2 L375.66,521.33 L376.48,520.43 L377.3,519.5 L378.13,518.51 L378.96,517.44 L379.79,516.34 L380.63,515.24 L381.47,514.18 L382.3,513.2 L383.13,512.31 L383.97,511.49 L384.8,510.71 L385.63,509.93 L386.47,509.14 L387.3,508.3 L388.16,507.36 L389.05,506.33 L389.94,505.28 L390.8,504.27 L391.6,503.39 L392.3,502.7 L392.86,502.25 L393.29,501.99 L393.65,501.86 L394.01,501.76 L394.44,501.64 L395,501.4 L395.69,501.05 L396.45,500.66 L397.28,500.22 L398.16,499.78 L399.07,499.33 L400,498.9 L400.96,498.48 L401.98,498.06 L403.03,497.64 L404.09,497.23 L405.15,496.81 L406.2,496.4 L407.23,495.98 L408.26,495.55 L409.29,495.12 L410.33,494.71 L411.36,494.34 L412.4,494 L413.47,493.73 L414.59,493.53 L415.71,493.36 L416.79,493.18 L417.8,492.97 L418.7,492.7 L419.45,492.39 L420.08,492.07 L420.63,491.72 L421.17,491.31 L421.74,490.81 L422.4,490.2 L423.16,489.45 L423.97,488.56 L424.82,487.59 L425.69,486.58 L426.55,485.57 L427.4,484.6 L428.22,483.67 L429.02,482.73 L429.82,481.8 L430.64,480.87 L431.5,479.93 L432.4,479 L433.38,478.04 L434.42,477.04 L435.5,476.04 L436.58,475.08 L437.62,474.19 L438.6,473.4 L439.5,472.72 L440.36,472.14 L441.18,471.62 L441.99,471.15 L442.79,470.72 L443.6,470.3 L444.41,469.94 L445.19,469.67 L445.96,469.43 L446.76,469.17 L447.6,468.84 L448.5,468.4 L449.51,467.81 L450.62,467.1 L451.77,466.33 L452.91,465.54 L453.97,464.78 L454.9,464.1 L455.68,463.48 L456.34,462.89 L456.93,462.33 L457.48,461.8 L458.03,461.32 L458.6,460.9 L459.24,460.53 L459.91,460.22 L460.58,459.95 L461.2,459.73 L461.72,459.54 L462.1,459.4" fill="none" stroke="#ff0000" stroke-width="3.4" stroke-linecap="round" stroke-linejoin="round"/>
<text x="461.7" y="456.7" font-size="3.8" font-weight="bold" text-anchor="middle" fill="#ff1a1a">6xxx</text>
<text x="397.8" y="497.6" font-size="3.8" font-weight="bold" text-anchor="middle" fill="#ff1a1a">2xxx</text>
<text x="375.8" y="516.5" font-size="3.8" font-weight="bold" text-anchor="middle" fill="#ff1a1a">1xxx</text>
<text x="370.55" y="450.3" font-size="7" font-weight="bold" text-anchor="middle" fill="#000" stroke="#000" stroke-width="0.18">Βόρειο Αιγαίο</text>
<path d="M549,540.6 V537.3 H550 V537.3 H551 V537.3 H552 V537.3 H553 V537.3 H554 V540.6 H555 V540.6 H556 V540.6 H557 V540.6 H558 V540.6 H559 V537.5 H560 V537.5 H561 V537.5 H562 V537.5 H563 V537.35 H564 V534.41 H565 V531.51 H566 V528.87 H567 V526.47 H568 V524.75 H569 V523.07 H570 V521.43 H571 V520.7 H572 V522.41 H573 V523.8 H574 V527.38 H575 V529.4 H576 V529.4 H577 V529.4 H578 V532.06 H579 V533.2 H580 V533.2 H581 V530.41 H582 V526.3 H583 V526.3 H584 V529.98 H585 V530.51 H586 V528.8 H587 V528.26 H588 V527.6 H589 V528.28 H590 V530.24 H591 V530.04 H592 V527.4 H593 V526.05 H594 V524.5 H595 V524.5 H596 V524.5 H597 V523.9 H598 V522.17 H599 V520.7 H600 V522.25 H601 V524.63 H602 V522.84 H603 V520.12 H604 V518.9 H605 V522.66 H606 V520.18 H607 V511.67 H608 V507 H609 V507 H610 V523.15 H611 V526.82 H612 V528.13 H613 V529.15 H614 V530.15 H615 V530.7 H616 V529.14 H617 V523.2 H618 V527.83 H619 V536.24 H620 V535.76 H621 V534.4 H622 V533.94 H623 V533.46 H624 V532.02 H625 V529.38 H626 V528.2 H627 V530.96 H628 V532.73 H629 V531.9 H630 V532.03 H631 V532.4 H632 V532.74 H633 V533.06 H634 V533.2 H635 V532.7 H636 V530.7 H637 V529.05 H638 V528.05 H639 V526.9 H640 V524.04 H641 V520.68 H642 V519.5 H643 V523.33 H644 V521.84 H645 V520.1 H646 V520.34 H647 V517.32 H648 V507.65 H649 V501.01 H650 V498.3 H651 V510.99 H652 V520.13 H653 V519.5 H654 V520.22 H655 V520.13 H656 V507 H657 V505.24 H658 V503.3 H659 V497.9 H660 V490.8 H661 V490.8 H662 V499.13 H663 V500.2 H664 V491.15 H665 V478.47 H666 V460.3 H667 V460.3 H668 V490.8 H669 V507.6 H670 V503.23 H671 V500.2 H672 V502.8 H673 V504.5 H674 V505.58 H675 V512.26 H676 V504.72 H677 V493.66 H678 V482.1 H679 V482.38 H680 V477.34 H681 V461.6 H682 V461.6 H683 V490.2 H684 V492.62 H685 V498.72 H686 V505.8 H687 V512.35 H688 V514.99 H689 V517 H690 V518.38 H691 V519.5 H692 V540.6 Z" fill="#4a6e8b"/>
<path d="M501.1,456.9 V543.86" fill="none" stroke="#000" stroke-width="1.5"/>
<path d="M500.5,543.86 H698.1" fill="none" stroke="#1a1a1a" stroke-width="1.3"/>
<path d="M498.6,540.6 H501.1 M498.6,523.8 H501.1 M498.6,507.2 H501.1 M498.6,490.5 H501.1 M498.6,473.7 H501.1 M498.6,457.1 H501.1" stroke="#111" stroke-width="0.8"/>
<text x="496.2" y="541.7" font-size="3.9" text-anchor="end" fill="#111">0</text>
<text x="496.2" y="524.9" font-size="3.9" text-anchor="end" fill="#111">20</text>
<text x="496.2" y="508.3" font-size="3.9" text-anchor="end" fill="#111">40</text>
<text x="496.2" y="491.6" font-size="3.9" text-anchor="end" fill="#111">60</text>
<text x="496.2" y="474.8" font-size="3.9" text-anchor="end" fill="#111">80</text>
<text x="496.2" y="458.2" font-size="3.9" text-anchor="end" fill="#111">100</text>
<path d="M628.3,543.86 V546.46" stroke="#111" stroke-width="0.8"/>
<text x="628.3" y="552.26" font-size="3.5" text-anchor="middle" fill="#000">2021</text>
<path d="M698.3,458 V540.9 M698.3,540.9 H700.8 M698.3,526.9 H700.8 M698.3,513.5 H700.8 M698.3,499.5 H700.8 M698.3,485.5 H700.8 M698.3,471.6 H700.8 M698.3,458 H700.8" fill="none" stroke="#000" stroke-width="1.1"/>
<text transform="translate(706.1,541.7) rotate(-90)" font-size="3.4" text-anchor="middle" fill="#222">0</text>
<text transform="translate(706.1,527.7) rotate(-90)" font-size="3.4" text-anchor="middle" fill="#222">1 000</text>
<text transform="translate(706.1,514.3) rotate(-90)" font-size="3.4" text-anchor="middle" fill="#222">2 000</text>
<text transform="translate(706.1,500.3) rotate(-90)" font-size="3.4" text-anchor="middle" fill="#222">3 000</text>
<text transform="translate(706.1,486.3) rotate(-90)" font-size="3.4" text-anchor="middle" fill="#222">4 000</text>
<text transform="translate(706.1,472.4) rotate(-90)" font-size="3.4" text-anchor="middle" fill="#222">5 000</text>
<text transform="translate(706.1,458.8) rotate(-90)" font-size="3.4" text-anchor="middle" fill="#222">6 000</text>
<path d="M508.4,540.5 L514.76,540.49 L524.01,540.49 L534.74,540.48 L545.54,540.46 L554.99,540.4 L561.7,540.3 L565.33,540.16 L566.95,539.98 L567.23,539.77 L566.83,539.54 L566.43,539.28 L566.7,539 L567.45,538.7 L568.1,538.38 L568.74,538.03 L569.48,537.66 L570.4,537.25 L571.6,536.8 L573.15,536.29 L575,535.73 L577.04,535.12 L579.14,534.52 L581.2,533.93 L583.1,533.4 L584.84,532.95 L586.52,532.56 L588.16,532.19 L589.77,531.81 L591.37,531.36 L593,530.8 L594.69,530.09 L596.44,529.26 L598.19,528.37 L599.88,527.47 L601.43,526.63 L602.8,525.9 L603.94,525.3 L604.89,524.78 L605.72,524.31 L606.47,523.88 L607.22,523.45 L608,523 L608.82,522.52 L609.62,522.04 L610.41,521.56 L611.18,521.1 L611.95,520.68 L612.7,520.3 L613.44,519.97 L614.17,519.68 L614.88,519.42 L615.59,519.19 L616.29,518.98 L617,518.8 L617.68,518.66 L618.33,518.57 L618.98,518.5 L619.65,518.43 L620.38,518.34 L621.2,518.2 L622.13,518 L623.15,517.76 L624.23,517.49 L625.33,517.21 L626.43,516.94 L627.5,516.7 L628.54,516.5 L629.57,516.32 L630.61,516.15 L631.64,515.97 L632.67,515.76 L633.7,515.5 L634.73,515.19 L635.77,514.84 L636.8,514.47 L637.83,514.07 L638.87,513.64 L639.9,513.2 L640.93,512.74 L641.96,512.27 L642.99,511.78 L644.03,511.25 L645.06,510.7 L646.1,510.1 L647.15,509.45 L648.2,508.76 L649.25,508.03 L650.3,507.29 L651.35,506.54 L652.4,505.8 L653.45,505.09 L654.52,504.41 L655.58,503.72 L656.63,503 L657.64,502.24 L658.6,501.4 L659.52,500.49 L660.4,499.51 L661.26,498.49 L662.07,497.43 L662.86,496.33 L663.6,495.2 L664.29,494 L664.93,492.73 L665.53,491.41 L666.11,490.11 L666.7,488.86 L667.3,487.7 L667.91,486.64 L668.52,485.64 L669.13,484.69 L669.74,483.79 L670.37,482.92 L671,482.1 L671.65,481.32 L672.33,480.6 L673.01,479.91 L673.69,479.26 L674.35,478.63 L675,478 L675.63,477.43 L676.24,476.92 L676.85,476.43 L677.44,475.91 L678.03,475.32 L678.6,474.6 L679.16,473.71 L679.7,472.7 L680.23,471.6 L680.76,470.48 L681.28,469.4 L681.8,468.4 L682.32,467.47 L682.82,466.55 L683.32,465.67 L683.83,464.84 L684.35,464.07 L684.9,463.4 L685.49,462.83 L686.11,462.36 L686.75,461.95 L687.39,461.59 L688.01,461.25 L688.6,460.9 L689.19,460.54 L689.79,460.18 L690.38,459.84 L690.92,459.54 L691.37,459.29 L691.7,459.1" fill="none" stroke="#ff0000" stroke-width="3.4" stroke-linecap="round" stroke-linejoin="round"/>
<text x="691.1" y="456.7" font-size="3.8" font-weight="bold" text-anchor="middle" fill="#ff1a1a">5xxx</text>
<text x="658" y="497.6" font-size="3.8" font-weight="bold" text-anchor="middle" fill="#ff1a1a">2xxx</text>
<text x="612.4" y="517.8" font-size="3.8" font-weight="bold" text-anchor="middle" fill="#ff1a1a">1xxx</text>
<text x="599.6" y="450.3" font-size="7" font-weight="bold" text-anchor="middle" fill="#000" stroke="#000" stroke-width="0.18">Νότιο Αιγαίο</text>
<path d="M49,682.6 V676.8 H50 V676.8 H51 V682.6 H52 V682.6 H53 V682.6 H54 V682.6 H55 V682.6 H56 V682.6 H57 V682.6 H58 V682.6 H59 V682.6 H60 V682.6 H61 V682.6 H62 V682.6 H63 V682.6 H64 V682.6 H65 V682.6 H66 V682.6 H67 V682.6 H68 V682.6 H69 V682.6 H70 V682.6 H71 V682.6 H72 V682.6 H73 V682.6 H74 V682.6 H75 V682.6 H76 V682.6 H77 V682.6 H78 V682.6 H79 V682.6 H80 V682.6 H81 V682.6 H82 V682.6 H83 V682.6 H84 V682.6 H85 V682.6 H86 V682.6 H87 V682.6 H88 V682.6 H89 V682.6 H90 V682.6 H91 V682.6 H92 V682.6 H93 V682.6 H94 V682.6 H95 V682.6 H96 V682.6 H97 V682.6 H98 V682.6 H99 V682.6 H100 V679.91 H101 V677.73 H102 V676.7 H103 V675.67 H104 V675.2 H105 V675.2 H106 V676.21 H107 V671.31 H108 V669.6 H109 V670.89 H110 V669.69 H111 V668.3 H112 V671.29 H113 V673.61 H114 V670.8 H115 V669.16 H116 V667.23 H117 V665.2 H118 V667.45 H119 V671.91 H120 V670.15 H121 V668.3 H122 V669.85 H123 V673.29 H124 V669.9 H125 V665.9 H126 V663.3 H127 V668.29 H128 V671 H129 V668.72 H130 V667.7 H131 V668.89 H132 V670.03 H133 V669.83 H134 V669.6 H135 V671.33 H136 V674 H137 V674.65 H138 V674.13 H139 V671.96 H140 V668.44 H141 V665.78 H142 V664.18 H143 V663.08 H144 V662.6 H145 V662.1 H146 V657.58 H147 V652.1 H148 V653.59 H149 V657.86 H150 V662.23 H151 V660.15 H152 V650.88 H153 V647.8 H154 V647.8 H155 V665.3 H156 V661.91 H157 V656.5 H158 V664.6 H159 V672.7 H160 V676.61 H161 V678.56 H162 V679.48 H163 V676.62 H164 V673.79 H165 V671.55 H166 V669.31 H167 V668.3 H168 V670.47 H169 V671.8 H170 V672.52 H171 V672.7 H172 V672.7 H173 V676.06 H174 V680 H175 V679.79 H176 V679.5 H177 V677.78 H178 V675.98 H179 V673.9 H180 V673.36 H181 V672.7 H182 V673.33 H183 V674.51 H184 V669.93 H185 V664.73 H186 V657.64 H187 V650.9 H188 V655.23 H189 V662.7 H190 V662.52 H191 V646.62 H192 V634.7 H193 V643.75 H194 V652.47 H195 V652.1 H196 V656.49 H197 V655.23 H198 V653.4 H199 V659.22 H200 V652.15 H201 V642.8 H202 V638.35 H203 V632.8 H204 V625.77 H205 V621.19 H206 V617.3 H207 V625.66 H208 V633.19 H209 V630.3 H210 V638.43 H211 V643.22 H212 V642.8 H213 V654.14 H214 V652.8 H215 V651.79 H216 V650.58 H217 V649 H218 V649 H219 V661.3 H220 V647.08 H221 V621.6 H222 V609.43 H223 V601.1 H224 V620.48 H225 V622.61 H226 V612.9 H227 V624.28 H228 V626.38 H229 V624.7 H230 V637.3 H231 V635.92 H232 V634.7 H233 V672.65 H234 V682.6 Z" fill="#4a6e8b"/>
<path d="M43,598.4 V685.28" fill="none" stroke="#000" stroke-width="1.5"/>
<path d="M42.4,685.28 H240" fill="none" stroke="#1a1a1a" stroke-width="1.3"/>
<path d="M40.5,682.1 H43 M40.5,667.8 H43 M40.5,653.3 H43 M40.5,638.7 H43 M40.5,624.3 H43 M40.5,609.8 H43" stroke="#111" stroke-width="0.8"/>
<text x="38.1" y="683.2" font-size="3.9" text-anchor="end" fill="#111">0</text>
<text x="38.1" y="668.9" font-size="3.9" text-anchor="end" fill="#111">10</text>
<text x="38.1" y="654.4" font-size="3.9" text-anchor="end" fill="#111">20</text>
<text x="38.1" y="639.8" font-size="3.9" text-anchor="end" fill="#111">30</text>
<text x="38.1" y="625.4" font-size="3.9" text-anchor="end" fill="#111">40</text>
<text x="38.1" y="610.9" font-size="3.9" text-anchor="end" fill="#111">50</text>
<text transform="translate(27.1,641.9) rotate(-90)" font-size="3.8" text-anchor="middle" fill="#222" textLength="50" lengthAdjust="spacingAndGlyphs">Αριθμός νέων κρουσμάτων</text>
<path d="M171.5,685.28 V687.88" stroke="#111" stroke-width="0.8"/>
<text x="171.5" y="693.68" font-size="3.5" text-anchor="middle" fill="#000">2021</text>
<path d="M240.2,604.6 V682.9 M240.2,682.9 H242.7 M240.2,669.7 H242.7 M240.2,656.6 H242.7 M240.2,643.5 H242.7 M240.2,630.5 H242.7 M240.2,617.4 H242.7 M240.2,604.6 H242.7" fill="none" stroke="#000" stroke-width="1.1"/>
<text transform="translate(248,683.7) rotate(-90)" font-size="3.4" text-anchor="middle" fill="#222">0</text>
<text transform="translate(248,670.5) rotate(-90)" font-size="3.4" text-anchor="middle" fill="#222">500</text>
<text transform="translate(248,657.4) rotate(-90)" font-size="3.4" text-anchor="middle" fill="#222">1 000</text>
<text transform="translate(248,644.3) rotate(-90)" font-size="3.4" text-anchor="middle" fill="#222">1 500</text>
<text transform="translate(248,631.3) rotate(-90)" font-size="3.4" text-anchor="middle" fill="#222">2 000</text>
<text transform="translate(248,618.2) rotate(-90)" font-size="3.4" text-anchor="middle" fill="#222">2 500</text>
<text transform="translate(248,605.4) rotate(-90)" font-size="3.4" text-anchor="middle" fill="#222">3 000</text>
<path d="M50.3,682.5 L55.61,682.38 L63.31,682.21 L72.26,682.02 L81.3,681.82 L89.26,681.64 L95,681.5 L98.26,681.42 L99.91,681.37 L100.5,681.35 L100.55,681.33 L100.61,681.28 L101.2,681.2 L102.25,681.08 L103.3,680.95 L104.35,680.8 L105.4,680.63 L106.45,680.43 L107.5,680.2 L108.54,679.94 L109.57,679.63 L110.61,679.31 L111.64,678.97 L112.67,678.63 L113.7,678.3 L114.73,677.98 L115.77,677.67 L116.8,677.35 L117.83,677.03 L118.87,676.72 L119.9,676.4 L120.93,676.08 L121.96,675.76 L122.99,675.44 L124.03,675.13 L125.06,674.81 L126.1,674.5 L127.15,674.2 L128.2,673.9 L129.25,673.6 L130.3,673.3 L131.35,673 L132.4,672.7 L133.44,672.4 L134.47,672.1 L135.51,671.79 L136.54,671.48 L137.57,671.15 L138.6,670.8 L139.65,670.43 L140.71,670.06 L141.77,669.67 L142.82,669.25 L143.84,668.8 L144.8,668.3 L145.72,667.73 L146.6,667.08 L147.44,666.39 L148.26,665.71 L149.04,665.07 L149.8,664.5 L150.5,664.02 L151.14,663.6 L151.75,663.22 L152.36,662.86 L153,662.49 L153.7,662.1 L154.46,661.67 L155.24,661.23 L156.06,660.77 L156.9,660.34 L157.78,659.94 L158.7,659.6 L159.65,659.33 L160.63,659.11 L161.64,658.92 L162.69,658.76 L163.78,658.59 L164.9,658.4 L166.07,658.18 L167.3,657.95 L168.57,657.71 L169.85,657.49 L171.13,657.28 L172.4,657.1 L173.68,656.97 L174.99,656.87 L176.31,656.8 L177.59,656.73 L178.79,656.63 L179.9,656.5 L180.89,656.35 L181.8,656.21 L182.64,656.04 L183.42,655.84 L184.17,655.56 L184.9,655.2 L185.58,654.74 L186.18,654.19 L186.75,653.58 L187.32,652.92 L187.92,652.22 L188.6,651.5 L189.34,650.74 L190.13,649.93 L190.94,649.08 L191.8,648.21 L192.68,647.35 L193.6,646.5 L194.58,645.68 L195.62,644.88 L196.7,644.07 L197.78,643.26 L198.82,642.4 L199.8,641.5 L200.69,640.57 L201.5,639.64 L202.29,638.67 L203.07,637.64 L203.9,636.53 L204.8,635.3 L205.8,633.87 L206.88,632.25 L208,630.54 L209.12,628.85 L210.2,627.3 L211.2,626 L212.12,624.98 L212.97,624.14 L213.79,623.45 L214.59,622.83 L215.39,622.24 L216.2,621.6 L217.04,620.97 L217.88,620.41 L218.72,619.86 L219.55,619.29 L220.35,618.65 L221.1,617.9 L221.8,617 L222.45,616 L223.08,614.92 L223.68,613.81 L224.29,612.73 L224.9,611.7 L225.51,610.73 L226.11,609.77 L226.71,608.83 L227.32,607.9 L227.94,606.99 L228.6,606.1 L229.34,605.17 L230.18,604.2 L231.03,603.25 L231.83,602.37 L232.51,601.64 L233,601.1" fill="none" stroke="#ff0000" stroke-width="3.4" stroke-linecap="round" stroke-linejoin="round"/>
<text x="232.3" y="597.9" font-size="3.8" font-weight="bold" text-anchor="middle" fill="#ff1a1a">3xxx</text>
<text x="199.4" y="639" font-size="3.8" font-weight="bold" text-anchor="middle" fill="#ff1a1a">1xxx</text>
<text x="154" y="658.8" font-size="3.8" font-weight="bold" text-anchor="middle" fill="#ff1a1a">7xx</text>
<text x="141.5" y="591.8" font-size="7" font-weight="bold" text-anchor="middle" fill="#000" stroke="#000" stroke-width="0.18">Ιόνια Νησιά</text>
</svg>
<div class="note l1">Σημ.: &nbsp;οι στήλες εκφράζουν τον αριθμό νέων κρουσμάτων με βάση την ημερομηνία λήψης εργαστηριακού δείγματος, και όχι με βάση την</div>
<div class="note l2">ημερομηνία ανακοίνωσης των κρουσμάτων.</div>
</body></html>
